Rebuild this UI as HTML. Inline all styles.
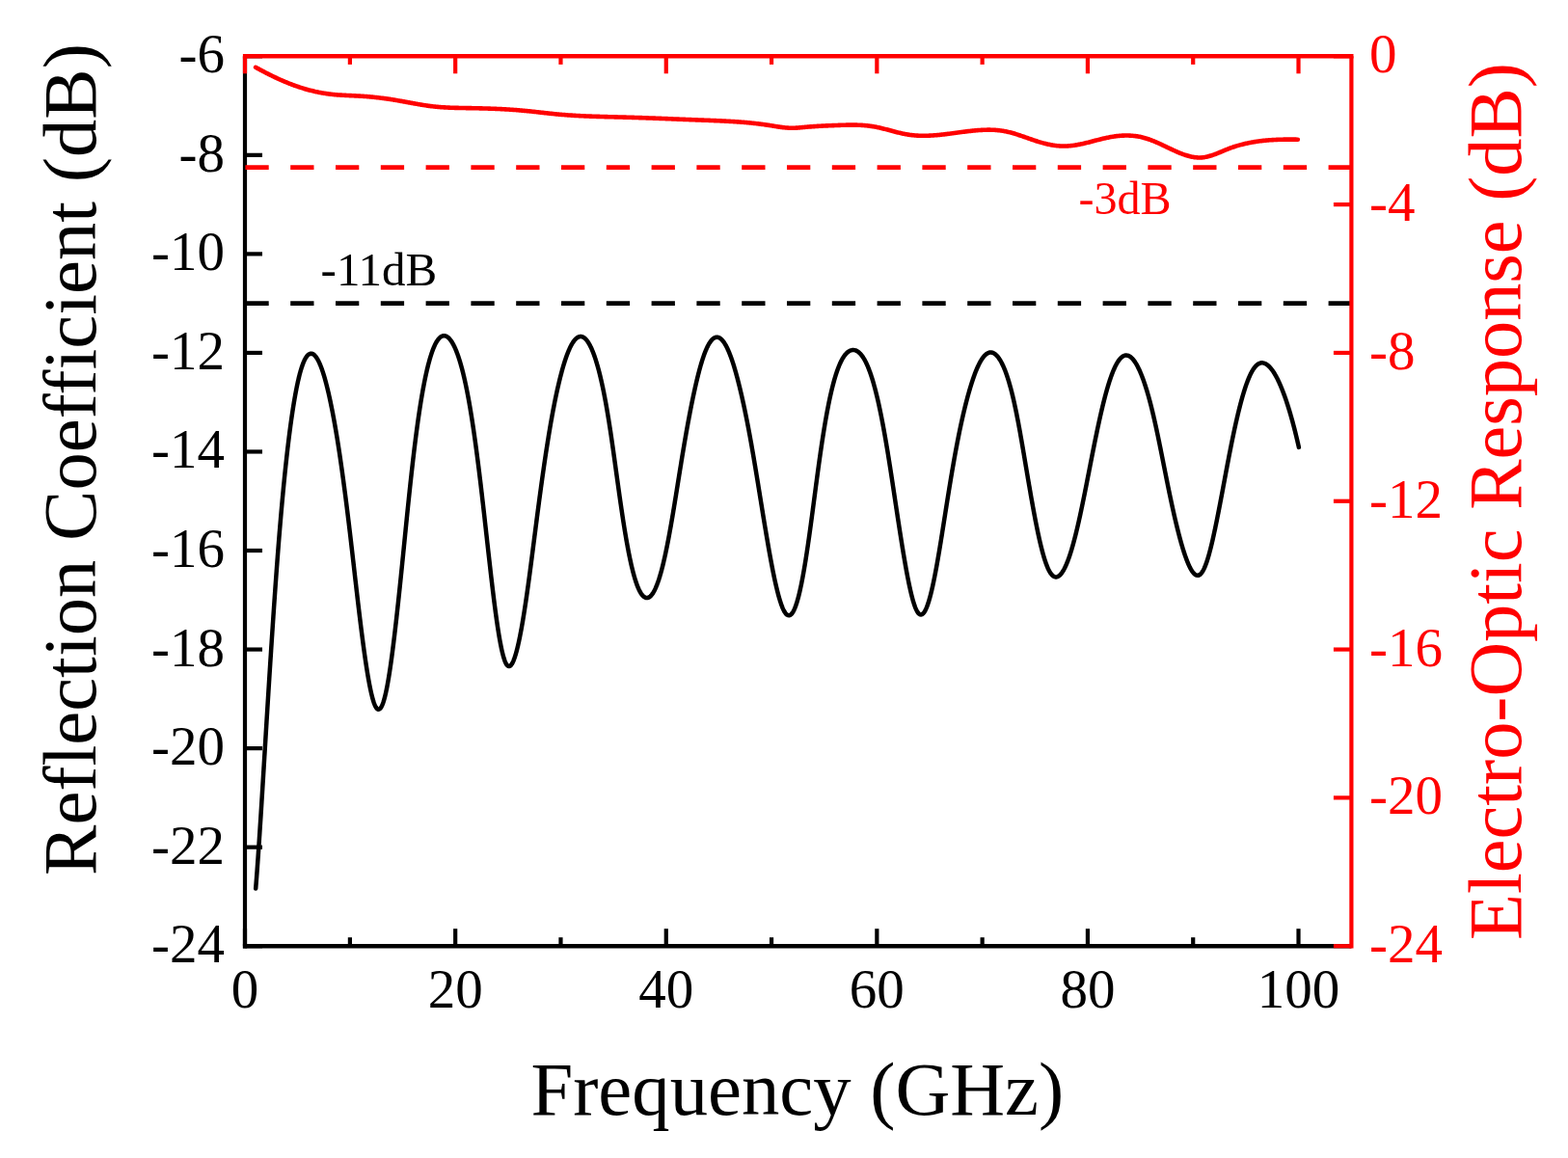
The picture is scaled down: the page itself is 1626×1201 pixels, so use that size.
<!DOCTYPE html>
<html><head><meta charset="utf-8"><title>Reflection Coefficient and Electro-Optic Response vs Frequency</title>
<style>html,body{margin:0;padding:0;background:#fff;overflow:hidden}svg{display:block}</style>
</head><body>
<svg width="1626" height="1201" viewBox="0 0 1626 1201"><g stroke="#000" stroke-width="4.2" fill="none" stroke-linecap="butt">
<line x1="254.0" y1="58.3" x2="254.0" y2="983.4000000000001"/>
<line x1="251.9" y1="981.2" x2="1401.4" y2="981.2" stroke-width="4.5"/>
<line x1="254.00" y1="981.2" x2="254.00" y2="963.2"/>
<line x1="362.89" y1="981.2" x2="362.89" y2="972.2"/>
<line x1="472.18" y1="981.2" x2="472.18" y2="963.2"/>
<line x1="581.47" y1="981.2" x2="581.47" y2="972.2"/>
<line x1="690.76" y1="981.2" x2="690.76" y2="963.2"/>
<line x1="800.05" y1="981.2" x2="800.05" y2="972.2"/>
<line x1="909.34" y1="981.2" x2="909.34" y2="963.2"/>
<line x1="1018.63" y1="981.2" x2="1018.63" y2="972.2"/>
<line x1="1127.92" y1="981.2" x2="1127.92" y2="963.2"/>
<line x1="1237.21" y1="981.2" x2="1237.21" y2="972.2"/>
<line x1="1346.50" y1="981.2" x2="1346.50" y2="963.2"/>
<line x1="254.0" y1="58.30" x2="272.0" y2="58.30"/>
<line x1="254.0" y1="160.84" x2="272.0" y2="160.84"/>
<line x1="254.0" y1="263.39" x2="272.0" y2="263.39"/>
<line x1="254.0" y1="365.93" x2="272.0" y2="365.93"/>
<line x1="254.0" y1="468.48" x2="272.0" y2="468.48"/>
<line x1="254.0" y1="571.02" x2="272.0" y2="571.02"/>
<line x1="254.0" y1="673.57" x2="272.0" y2="673.57"/>
<line x1="254.0" y1="776.11" x2="272.0" y2="776.11"/>
<line x1="254.0" y1="878.66" x2="272.0" y2="878.66"/>
<line x1="254.0" y1="981.20" x2="272.0" y2="981.20"/>
</g>
<line x1="254.4" y1="314.66" x2="1401.4" y2="314.66" stroke="#000" stroke-width="4.6" stroke-dasharray="24.3 22.5"/>
<path d="M265.19,921.54 L265.29,920.30 L265.39,919.04 L265.49,917.78 L265.59,916.51 L265.67,915.49 L265.77,914.20 L265.85,913.16 L265.95,911.86 L266.05,910.55 L266.13,909.49 L266.23,908.16 L266.31,907.10 L266.41,905.75 L266.49,904.67 L266.57,903.59 L266.67,902.23 L266.75,901.13 L266.85,899.75 L266.93,898.65 L267.01,897.53 L267.11,896.14 L267.19,895.01 L267.27,893.89 L267.35,892.76 L267.43,891.62 L267.53,890.19 L267.61,889.05 L267.69,887.90 L267.77,886.75 L267.85,885.59 L267.93,884.43 L268.03,882.97 L268.11,881.80 L268.19,880.62 L268.27,879.44 L268.35,878.26 L268.43,877.07 L268.51,875.88 L268.59,874.69 L268.67,873.49 L268.75,872.29 L268.83,871.09 L268.91,869.88 L268.99,868.67 L269.07,867.46 L269.15,866.24 L269.23,865.03 L269.31,863.80 L269.37,862.88 L269.45,861.66 L269.53,860.43 L269.61,859.19 L269.69,857.96 L269.77,856.72 L269.85,855.48 L269.93,854.23 L269.99,853.30 L270.07,852.05 L270.15,850.80 L270.23,849.55 L270.31,848.29 L270.39,847.03 L270.45,846.09 L270.53,844.83 L270.61,843.56 L270.69,842.30 L270.77,841.03 L270.83,840.08 L270.91,838.81 L270.99,837.53 L271.07,836.26 L271.13,835.30 L271.21,834.02 L271.29,832.74 L271.37,831.46 L271.43,830.50 L271.51,829.21 L271.59,827.93 L271.67,826.64 L271.73,825.68 L271.81,824.39 L271.89,823.10 L271.95,822.13 L272.03,820.83 L272.11,819.54 L272.17,818.57 L272.25,817.27 L272.33,815.97 L272.41,814.68 L272.47,813.70 L272.55,812.40 L272.63,811.10 L272.69,810.12 L272.77,808.82 L272.85,807.52 L272.91,806.54 L272.99,805.24 L273.07,803.93 L273.13,802.95 L273.21,801.65 L273.29,800.34 L273.35,799.36 L273.43,798.05 L273.51,796.74 L273.57,795.76 L273.65,794.45 L273.73,793.14 L273.79,792.16 L273.87,790.85 L273.95,789.54 L274.01,788.56 L274.09,787.25 L274.17,785.94 L274.23,784.95 L274.31,783.64 L274.39,782.33 L274.45,781.35 L274.53,780.04 L274.61,778.73 L274.67,777.74 L274.75,776.43 L274.81,775.45 L274.89,774.14 L274.97,772.83 L275.03,771.85 L275.11,770.54 L275.19,769.23 L275.25,768.24 L275.33,766.94 L275.41,765.63 L275.47,764.65 L275.55,763.34 L275.63,762.03 L275.69,761.05 L275.77,759.74 L275.85,758.44 L275.91,757.46 L275.99,756.15 L276.07,754.85 L276.13,753.87 L276.21,752.56 L276.29,751.26 L276.35,750.28 L276.43,748.98 L276.51,747.68 L276.57,746.70 L276.65,745.40 L276.73,744.11 L276.81,742.81 L276.87,741.83 L276.95,740.54 L277.03,739.24 L277.09,738.27 L277.17,736.98 L277.25,735.68 L277.31,734.71 L277.39,733.42 L277.47,732.13 L277.55,730.84 L277.61,729.87 L277.69,728.59 L277.77,727.30 L277.83,726.33 L277.91,725.05 L277.99,723.76 L278.07,722.48 L278.13,721.52 L278.21,720.24 L278.29,718.96 L278.37,717.68 L278.43,716.72 L278.51,715.44 L278.59,714.17 L278.67,712.89 L278.73,711.94 L278.81,710.66 L278.89,709.39 L278.97,708.12 L279.03,707.17 L279.11,705.90 L279.19,704.64 L279.27,703.37 L279.35,702.11 L279.41,701.16 L279.49,699.90 L279.57,698.63 L279.65,697.37 L279.73,696.12 L279.79,695.17 L279.87,693.92 L279.95,692.66 L280.03,691.41 L280.11,690.16 L280.17,689.22 L280.25,687.97 L280.33,686.72 L280.41,685.47 L280.49,684.23 L280.57,682.98 L280.65,681.74 L280.71,680.81 L280.79,679.57 L280.87,678.33 L280.95,677.09 L281.03,675.86 L281.11,674.62 L281.19,673.39 L281.27,672.16 L281.33,671.23 L281.41,670.00 L281.49,668.78 L281.57,667.55 L281.65,666.33 L281.73,665.10 L281.81,663.88 L281.89,662.66 L281.97,661.44 L282.05,660.23 L282.13,659.01 L282.21,657.80 L282.29,656.59 L282.35,655.68 L282.43,654.47 L282.51,653.27 L282.59,652.06 L282.67,650.86 L282.75,649.66 L282.83,648.46 L282.91,647.26 L282.99,646.06 L283.07,644.87 L283.15,643.68 L283.23,642.49 L283.31,641.30 L283.39,640.11 L283.47,638.92 L283.57,637.45 L283.65,636.27 L283.73,635.09 L283.81,633.91 L283.89,632.74 L283.97,631.56 L284.05,630.39 L284.13,629.22 L284.21,628.06 L284.29,626.89 L284.37,625.73 L284.47,624.28 L284.55,623.12 L284.63,621.97 L284.71,620.82 L284.79,619.67 L284.87,618.52 L284.95,617.37 L285.05,615.94 L285.13,614.80 L285.21,613.66 L285.29,612.53 L285.37,611.39 L285.47,609.98 L285.55,608.85 L285.63,607.73 L285.71,606.60 L285.81,605.20 L285.89,604.09 L285.97,602.97 L286.07,601.58 L286.15,600.47 L286.23,599.37 L286.33,597.99 L286.41,596.89 L286.49,595.79 L286.59,594.42 L286.67,593.33 L286.75,592.24 L286.85,590.88 L286.93,589.80 L287.03,588.45 L287.11,587.37 L287.21,586.03 L287.29,584.96 L287.39,583.63 L287.47,582.57 L287.57,581.24 L287.65,580.18 L287.75,578.87 L287.83,577.82 L287.93,576.51 L288.01,575.46 L288.11,574.16 L288.21,572.87 L288.29,571.83 L288.39,570.55 L288.49,569.26 L288.57,568.24 L288.67,566.96 L288.77,565.69 L288.85,564.68 L288.95,563.42 L289.05,562.16 L289.15,560.91 L289.23,559.91 L289.33,558.66 L289.43,557.42 L289.53,556.18 L289.63,554.95 L289.73,553.73 L289.81,552.75 L289.91,551.53 L290.01,550.31 L290.11,549.11 L290.21,547.90 L290.31,546.70 L290.41,545.50 L290.51,544.31 L290.61,543.12 L290.71,541.94 L290.81,540.76 L290.91,539.59 L291.03,538.19 L291.13,537.03 L291.23,535.87 L291.33,534.71 L291.43,533.56 L291.53,532.42 L291.65,531.05 L291.75,529.91 L291.85,528.78 L291.95,527.66 L292.07,526.31 L292.17,525.19 L292.29,523.86 L292.39,522.75 L292.49,521.65 L292.61,520.33 L292.71,519.24 L292.83,517.94 L292.93,516.85 L293.05,515.56 L293.15,514.49 L293.27,513.20 L293.39,511.93 L293.49,510.87 L293.61,509.61 L293.73,508.35 L293.83,507.30 L293.95,506.06 L294.07,504.82 L294.19,503.58 L294.29,502.56 L294.41,501.33 L294.53,500.12 L294.65,498.91 L294.77,497.70 L294.89,496.50 L295.01,495.31 L295.13,494.12 L295.25,492.94 L295.37,491.77 L295.49,490.60 L295.63,489.24 L295.75,488.08 L295.87,486.93 L295.99,485.79 L296.11,484.65 L296.25,483.33 L296.37,482.21 L296.51,480.90 L296.63,479.79 L296.75,478.69 L296.89,477.40 L297.03,476.13 L297.15,475.04 L297.29,473.78 L297.41,472.71 L297.55,471.46 L297.69,470.23 L297.83,469.00 L297.95,467.95 L298.09,466.74 L298.23,465.53 L298.37,464.34 L298.51,463.15 L298.65,461.96 L298.79,460.79 L298.95,459.46 L299.09,458.30 L299.23,457.15 L299.37,456.01 L299.53,454.72 L299.67,453.59 L299.83,452.32 L299.97,451.21 L300.13,449.96 L300.27,448.87 L300.43,447.63 L300.59,446.40 L300.75,445.18 L300.89,444.13 L301.05,442.93 L301.21,441.74 L301.37,440.56 L301.55,439.25 L301.71,438.09 L301.87,436.94 L302.03,435.80 L302.21,434.53 L302.37,433.42 L302.55,432.17 L302.73,430.94 L302.89,429.85 L303.07,428.64 L303.25,427.44 L303.43,426.26 L303.61,425.09 L303.79,423.92 L303.99,422.65 L304.17,421.51 L304.35,420.39 L304.55,419.15 L304.75,417.94 L304.95,416.73 L305.15,415.54 L305.35,414.37 L305.55,413.21 L305.75,412.06 L305.97,410.82 L306.17,409.71 L306.39,408.50 L306.61,407.31 L306.83,406.14 L307.05,404.98 L307.27,403.84 L307.51,402.63 L307.75,401.43 L307.99,400.25 L308.23,399.10 L308.47,397.96 L308.73,396.76 L308.99,395.58 L309.25,394.43 L309.53,393.21 L309.79,392.11 L310.09,390.87 L310.37,389.75 L310.67,388.57 L310.97,387.43 L311.29,386.25 L311.61,385.10 L311.95,383.93 L312.29,382.80 L312.65,381.64 L313.01,380.53 L313.39,379.41 L313.79,378.29 L314.23,377.12 L314.67,376.01 L315.13,374.92 L315.63,373.83 L316.15,372.77 L316.73,371.70 L317.35,370.67 L318.03,369.69 L318.79,368.76 L319.63,367.94 L320.61,367.24 L321.73,366.80 L322.91,366.71 L324.09,367.01 L325.13,367.58 L326.07,368.34 L326.89,369.19 L327.65,370.13 L328.35,371.12 L328.99,372.14 L329.59,373.18 L330.15,374.24 L330.69,375.33 L331.19,376.40 L331.67,377.48 L332.15,378.62 L332.59,379.72 L333.03,380.86 L333.45,381.99 L333.85,383.10 L334.23,384.20 L334.63,385.39 L334.99,386.49 L335.35,387.62 L335.71,388.78 L336.07,389.97 L336.41,391.13 L336.73,392.23 L337.07,393.44 L337.39,394.59 L337.69,395.69 L338.01,396.89 L338.31,398.04 L338.61,399.20 L338.91,400.38 L339.19,401.50 L339.49,402.72 L339.77,403.88 L340.05,405.05 L340.33,406.24 L340.59,407.35 L340.87,408.57 L341.13,409.72 L341.39,410.88 L341.65,412.05 L341.91,413.24 L342.17,414.44 L342.41,415.56 L342.67,416.79 L342.91,417.93 L343.15,419.09 L343.39,420.25 L343.63,421.43 L343.87,422.62 L344.11,423.82 L344.35,425.03 L344.57,426.16 L344.81,427.39 L345.03,428.53 L345.25,429.68 L345.47,430.84 L345.69,432.01 L345.91,433.19 L346.13,434.38 L346.35,435.58 L346.57,436.78 L346.79,438.00 L346.99,439.12 L347.21,440.35 L347.41,441.49 L347.63,442.74 L347.83,443.89 L348.03,445.05 L348.23,446.21 L348.43,447.39 L348.63,448.57 L348.83,449.76 L349.03,450.96 L349.23,452.17 L349.43,453.38 L349.61,454.48 L349.81,455.71 L350.01,456.95 L350.19,458.07 L350.39,459.33 L350.57,460.47 L350.75,461.61 L350.95,462.89 L351.13,464.05 L351.31,465.21 L351.49,466.39 L351.67,467.56 L351.85,468.75 L352.03,469.95 L352.21,471.15 L352.39,472.35 L352.57,473.57 L352.73,474.65 L352.91,475.88 L353.09,477.11 L353.25,478.21 L353.43,479.46 L353.59,480.57 L353.77,481.83 L353.93,482.95 L354.11,484.22 L354.27,485.35 L354.45,486.63 L354.61,487.77 L354.77,488.92 L354.93,490.07 L355.11,491.37 L355.27,492.54 L355.43,493.70 L355.59,494.87 L355.75,496.04 L355.91,497.22 L356.07,498.41 L356.23,499.59 L356.39,500.78 L356.55,501.98 L356.71,503.18 L356.87,504.38 L357.03,505.59 L357.19,506.80 L357.35,508.01 L357.51,509.23 L357.65,510.30 L357.81,511.53 L357.97,512.76 L358.13,514.00 L358.27,515.08 L358.43,516.33 L358.59,517.57 L358.73,518.67 L358.89,519.93 L359.03,521.03 L359.19,522.29 L359.33,523.40 L359.49,524.67 L359.63,525.79 L359.79,527.07 L359.93,528.19 L360.09,529.47 L360.23,530.60 L360.37,531.74 L360.53,533.03 L360.67,534.17 L360.81,535.31 L360.97,536.62 L361.11,537.77 L361.25,538.92 L361.39,540.07 L361.55,541.39 L361.69,542.55 L361.83,543.72 L361.97,544.88 L362.11,546.05 L362.25,547.22 L362.41,548.56 L362.55,549.73 L362.69,550.91 L362.83,552.09 L362.97,553.28 L363.11,554.46 L363.25,555.65 L363.39,556.84 L363.53,558.03 L363.67,559.22 L363.81,560.42 L363.95,561.62 L364.09,562.82 L364.23,564.02 L364.37,565.22 L364.51,566.43 L364.65,567.63 L364.77,568.67 L364.91,569.88 L365.05,571.09 L365.19,572.30 L365.33,573.52 L365.47,574.73 L365.61,575.95 L365.75,577.17 L365.87,578.21 L366.01,579.43 L366.15,580.65 L366.29,581.87 L366.43,583.10 L366.57,584.32 L366.69,585.37 L366.83,586.59 L366.97,587.81 L367.11,589.04 L367.25,590.26 L367.37,591.31 L367.51,592.53 L367.65,593.76 L367.79,594.98 L367.93,596.20 L368.07,597.43 L368.19,598.47 L368.33,599.70 L368.47,600.92 L368.61,602.14 L368.75,603.36 L368.89,604.57 L369.01,605.62 L369.15,606.83 L369.29,608.05 L369.43,609.26 L369.57,610.47 L369.71,611.68 L369.85,612.89 L369.99,614.10 L370.13,615.31 L370.27,616.51 L370.39,617.54 L370.53,618.74 L370.67,619.94 L370.81,621.14 L370.95,622.33 L371.09,623.52 L371.23,624.71 L371.37,625.90 L371.51,627.08 L371.65,628.27 L371.81,629.61 L371.95,630.79 L372.09,631.96 L372.23,633.14 L372.37,634.30 L372.51,635.47 L372.65,636.63 L372.81,637.96 L372.95,639.11 L373.09,640.26 L373.23,641.41 L373.37,642.56 L373.53,643.86 L373.67,645.00 L373.81,646.13 L373.97,647.43 L374.11,648.55 L374.27,649.83 L374.41,650.95 L374.57,652.22 L374.71,653.33 L374.87,654.60 L375.01,655.70 L375.17,656.95 L375.31,658.04 L375.47,659.28 L375.63,660.52 L375.79,661.75 L375.93,662.82 L376.09,664.04 L376.25,665.25 L376.41,666.45 L376.57,667.65 L376.73,668.85 L376.89,670.03 L377.05,671.21 L377.21,672.38 L377.37,673.55 L377.53,674.71 L377.71,676.00 L377.87,677.15 L378.03,678.28 L378.21,679.55 L378.37,680.67 L378.55,681.92 L378.71,683.02 L378.89,684.25 L379.07,685.47 L379.25,686.69 L379.43,687.89 L379.59,688.94 L379.79,690.25 L379.97,691.42 L380.15,692.58 L380.33,693.72 L380.53,694.98 L380.71,696.10 L380.91,697.33 L381.09,698.42 L381.29,699.62 L381.49,700.81 L381.69,701.98 L381.91,703.25 L382.11,704.39 L382.33,705.62 L382.53,706.72 L382.75,707.91 L382.97,709.08 L383.21,710.34 L383.43,711.47 L383.67,712.67 L383.91,713.85 L384.15,715.00 L384.39,716.12 L384.65,717.31 L384.91,718.46 L385.19,719.67 L385.47,720.84 L385.75,721.96 L386.05,723.12 L386.37,724.31 L386.69,725.44 L387.03,726.58 L387.41,727.79 L387.79,728.91 L388.19,730.00 L388.65,731.14 L389.13,732.20 L389.69,733.27 L390.35,734.29 L391.15,735.17 L392.19,735.73 L393.35,735.57 L394.29,734.83 L395.03,733.87 L395.63,732.84 L396.17,731.73 L396.63,730.64 L397.05,729.54 L397.45,728.40 L397.83,727.22 L398.17,726.10 L398.51,724.90 L398.81,723.80 L399.11,722.64 L399.41,721.43 L399.69,720.26 L399.95,719.13 L400.21,717.96 L400.47,716.76 L400.71,715.62 L400.95,714.44 L401.19,713.24 L401.43,712.00 L401.65,710.85 L401.87,709.66 L402.09,708.45 L402.29,707.33 L402.49,706.19 L402.71,704.91 L402.91,703.73 L403.11,702.53 L403.29,701.43 L403.49,700.19 L403.67,699.06 L403.87,697.79 L404.05,696.63 L404.23,695.45 L404.41,694.26 L404.59,693.05 L404.75,691.97 L404.93,690.74 L405.11,689.49 L405.27,688.37 L405.45,687.10 L405.61,685.96 L405.77,684.81 L405.93,683.64 L406.11,682.33 L406.27,681.14 L406.43,679.95 L406.57,678.90 L406.73,677.69 L406.89,676.47 L407.05,675.24 L407.21,674.00 L407.35,672.91 L407.51,671.65 L407.65,670.54 L407.81,669.27 L407.95,668.15 L408.11,666.87 L408.25,665.73 L408.39,664.59 L408.55,663.28 L408.69,662.13 L408.83,660.97 L408.97,659.81 L409.11,658.64 L409.25,657.46 L409.41,656.11 L409.55,654.93 L409.69,653.73 L409.83,652.54 L409.95,651.50 L410.09,650.30 L410.23,649.08 L410.37,647.86 L410.51,646.64 L410.65,645.41 L410.79,644.18 L410.91,643.12 L411.05,641.88 L411.19,640.63 L411.31,639.56 L411.45,638.31 L411.59,637.05 L411.71,635.96 L411.85,634.70 L411.97,633.61 L412.11,632.33 L412.23,631.23 L412.37,629.95 L412.49,628.85 L412.63,627.56 L412.75,626.45 L412.89,625.15 L413.01,624.04 L413.15,622.73 L413.27,621.61 L413.39,620.48 L413.53,619.17 L413.65,618.04 L413.77,616.91 L413.91,615.58 L414.03,614.44 L414.15,613.30 L414.29,611.97 L414.41,610.83 L414.53,609.68 L414.65,608.53 L414.79,607.18 L414.91,606.03 L415.03,604.87 L415.15,603.71 L415.27,602.55 L415.39,601.39 L415.53,600.03 L415.65,598.86 L415.77,597.69 L415.89,596.52 L416.01,595.34 L416.13,594.17 L416.25,592.99 L416.37,591.81 L416.49,590.63 L416.61,589.45 L416.73,588.27 L416.87,586.89 L416.99,585.70 L417.11,584.51 L417.23,583.33 L417.35,582.14 L417.47,580.95 L417.59,579.75 L417.71,578.56 L417.83,577.37 L417.95,576.17 L418.07,574.97 L418.19,573.78 L418.31,572.58 L418.43,571.38 L418.55,570.18 L418.67,568.98 L418.79,567.78 L418.91,566.58 L419.01,565.58 L419.13,564.38 L419.25,563.18 L419.37,561.98 L419.49,560.77 L419.61,559.57 L419.73,558.37 L419.85,557.17 L419.97,555.97 L420.09,554.77 L420.21,553.57 L420.33,552.37 L420.45,551.17 L420.57,549.97 L420.69,548.77 L420.81,547.57 L420.93,546.37 L421.05,545.18 L421.17,543.98 L421.29,542.79 L421.41,541.59 L421.53,540.40 L421.65,539.21 L421.77,538.02 L421.89,536.83 L422.01,535.65 L422.13,534.46 L422.25,533.28 L422.37,532.10 L422.49,530.92 L422.61,529.74 L422.73,528.57 L422.87,527.20 L422.99,526.03 L423.11,524.86 L423.23,523.69 L423.35,522.53 L423.47,521.37 L423.59,520.21 L423.73,518.86 L423.85,517.70 L423.97,516.55 L424.09,515.40 L424.23,514.06 L424.35,512.92 L424.47,511.78 L424.59,510.64 L424.73,509.32 L424.85,508.18 L424.97,507.05 L425.11,505.74 L425.23,504.62 L425.35,503.50 L425.49,502.20 L425.61,501.08 L425.75,499.79 L425.87,498.68 L426.01,497.40 L426.13,496.30 L426.27,495.02 L426.39,493.93 L426.53,492.66 L426.65,491.57 L426.79,490.31 L426.93,489.05 L427.05,487.98 L427.19,486.73 L427.33,485.49 L427.47,484.25 L427.59,483.20 L427.73,481.97 L427.87,480.74 L428.01,479.53 L428.15,478.31 L428.29,477.11 L428.41,476.08 L428.55,474.88 L428.69,473.68 L428.83,472.50 L428.99,471.15 L429.13,469.97 L429.27,468.80 L429.41,467.64 L429.55,466.48 L429.69,465.32 L429.85,464.01 L429.99,462.87 L430.13,461.73 L430.29,460.44 L430.43,459.32 L430.57,458.20 L430.73,456.93 L430.87,455.82 L431.03,454.57 L431.19,453.32 L431.33,452.23 L431.49,451.00 L431.65,449.77 L431.81,448.55 L431.95,447.49 L432.11,446.29 L432.27,445.09 L432.43,443.90 L432.59,442.72 L432.75,441.55 L432.93,440.24 L433.09,439.08 L433.25,437.93 L433.41,436.79 L433.59,435.52 L433.75,434.39 L433.93,433.14 L434.09,432.03 L434.27,430.80 L434.45,429.57 L434.63,428.36 L434.79,427.29 L434.97,426.09 L435.15,424.90 L435.33,423.73 L435.53,422.43 L435.71,421.28 L435.89,420.13 L436.09,418.87 L436.27,417.75 L436.47,416.51 L436.65,415.41 L436.85,414.20 L437.05,413.00 L437.25,411.81 L437.45,410.63 L437.65,409.47 L437.85,408.32 L438.07,407.06 L438.27,405.94 L438.49,404.71 L438.69,403.61 L438.91,402.41 L439.13,401.23 L439.35,400.06 L439.59,398.81 L439.81,397.67 L440.05,396.44 L440.27,395.34 L440.51,394.14 L440.75,392.97 L440.99,391.81 L441.25,390.58 L441.49,389.45 L441.75,388.26 L442.01,387.08 L442.27,385.92 L442.53,384.78 L442.81,383.58 L443.09,382.39 L443.37,381.23 L443.65,380.10 L443.95,378.90 L444.23,377.81 L444.55,376.59 L444.85,375.47 L445.17,374.30 L445.49,373.16 L445.83,371.98 L446.17,370.83 L446.51,369.71 L446.87,368.56 L447.25,367.38 L447.63,366.24 L448.01,365.14 L448.41,364.02 L448.83,362.89 L449.27,361.75 L449.71,360.67 L450.19,359.54 L450.67,358.46 L451.19,357.36 L451.73,356.29 L452.29,355.26 L452.91,354.20 L453.55,353.20 L454.25,352.22 L454.99,351.30 L455.81,350.43 L456.71,349.64 L457.71,348.97 L458.81,348.47 L459.97,348.22 L461.17,348.25 L462.33,348.56 L463.41,349.07 L464.41,349.76 L465.31,350.54 L466.15,351.41 L466.91,352.32 L467.63,353.28 L468.31,354.28 L468.95,355.30 L469.55,356.33 L470.13,357.40 L470.67,358.45 L471.21,359.55 L471.71,360.63 L472.19,361.71 L472.67,362.84 L473.13,363.96 L473.57,365.08 L473.99,366.18 L474.41,367.32 L474.81,368.43 L475.21,369.59 L475.59,370.71 L475.97,371.87 L476.33,372.99 L476.69,374.15 L477.03,375.26 L477.37,376.40 L477.71,377.57 L478.05,378.76 L478.37,379.91 L478.69,381.08 L478.99,382.20 L479.31,383.42 L479.61,384.58 L479.89,385.68 L480.19,386.89 L480.47,388.03 L480.75,389.19 L481.03,390.37 L481.31,391.57 L481.57,392.70 L481.83,393.85 L482.09,395.01 L482.35,396.19 L482.61,397.39 L482.87,398.61 L483.11,399.74 L483.35,400.89 L483.59,402.06 L483.83,403.23 L484.07,404.43 L484.31,405.64 L484.55,406.86 L484.77,407.99 L484.99,409.14 L485.21,410.30 L485.45,411.57 L485.67,412.76 L485.87,413.85 L486.09,415.05 L486.31,416.27 L486.51,417.39 L486.73,418.64 L486.93,419.78 L487.13,420.93 L487.35,422.21 L487.55,423.39 L487.75,424.57 L487.95,425.77 L488.13,426.85 L488.33,428.07 L488.53,429.29 L488.71,430.40 L488.91,431.65 L489.09,432.78 L489.29,434.04 L489.47,435.19 L489.65,436.34 L489.83,437.51 L490.03,438.81 L490.21,439.99 L490.39,441.18 L490.57,442.38 L490.73,443.45 L490.91,444.66 L491.09,445.88 L491.27,447.11 L491.43,448.21 L491.61,449.46 L491.77,450.57 L491.95,451.83 L492.11,452.95 L492.29,454.23 L492.45,455.37 L492.61,456.52 L492.79,457.81 L492.95,458.97 L493.11,460.14 L493.27,461.31 L493.43,462.49 L493.59,463.67 L493.75,464.86 L493.91,466.05 L494.07,467.26 L494.23,468.46 L494.39,469.68 L494.55,470.90 L494.69,471.97 L494.85,473.20 L495.01,474.43 L495.17,475.67 L495.31,476.76 L495.47,478.01 L495.61,479.11 L495.77,480.37 L495.93,481.64 L496.07,482.75 L496.21,483.87 L496.37,485.15 L496.51,486.27 L496.67,487.56 L496.81,488.69 L496.95,489.83 L497.11,491.13 L497.25,492.28 L497.39,493.43 L497.55,494.74 L497.69,495.90 L497.83,497.06 L497.97,498.22 L498.11,499.38 L498.25,500.55 L498.41,501.89 L498.55,503.07 L498.69,504.24 L498.83,505.43 L498.97,506.61 L499.11,507.80 L499.25,508.99 L499.39,510.18 L499.53,511.38 L499.67,512.58 L499.81,513.78 L499.95,514.99 L500.09,516.19 L500.21,517.23 L500.35,518.44 L500.49,519.66 L500.63,520.87 L500.77,522.09 L500.91,523.32 L501.05,524.54 L501.17,525.59 L501.31,526.82 L501.45,528.05 L501.59,529.28 L501.73,530.52 L501.85,531.58 L501.99,532.81 L502.13,534.05 L502.25,535.12 L502.39,536.36 L502.53,537.60 L502.67,538.85 L502.79,539.92 L502.93,541.17 L503.07,542.42 L503.19,543.49 L503.33,544.74 L503.47,545.99 L503.59,547.07 L503.73,548.32 L503.87,549.58 L503.99,550.65 L504.13,551.91 L504.27,553.17 L504.39,554.24 L504.53,555.50 L504.65,556.58 L504.79,557.84 L504.93,559.10 L505.05,560.17 L505.19,561.43 L505.33,562.69 L505.45,563.77 L505.59,565.02 L505.73,566.28 L505.85,567.35 L505.99,568.61 L506.13,569.86 L506.25,570.94 L506.39,572.19 L506.53,573.44 L506.65,574.51 L506.79,575.76 L506.93,577.01 L507.05,578.07 L507.19,579.32 L507.33,580.56 L507.45,581.62 L507.59,582.86 L507.73,584.10 L507.87,585.33 L508.01,586.56 L508.13,587.62 L508.27,588.84 L508.41,590.07 L508.55,591.29 L508.69,592.51 L508.81,593.55 L508.95,594.77 L509.09,595.98 L509.23,597.19 L509.37,598.39 L509.51,599.59 L509.65,600.79 L509.79,601.98 L509.93,603.17 L510.07,604.36 L510.21,605.54 L510.35,606.72 L510.49,607.90 L510.63,609.07 L510.77,610.23 L510.93,611.56 L511.07,612.72 L511.21,613.87 L511.35,615.02 L511.51,616.32 L511.65,617.46 L511.79,618.59 L511.95,619.88 L512.09,621.00 L512.25,622.28 L512.39,623.39 L512.55,624.65 L512.69,625.74 L512.85,626.99 L513.01,628.23 L513.15,629.31 L513.31,630.54 L513.47,631.75 L513.63,632.96 L513.79,634.16 L513.95,635.35 L514.11,636.54 L514.27,637.71 L514.43,638.87 L514.59,640.03 L514.75,641.18 L514.93,642.45 L515.09,643.58 L515.27,644.83 L515.43,645.94 L515.61,647.17 L515.79,648.38 L515.97,649.59 L516.15,650.78 L516.33,651.95 L516.51,653.11 L516.69,654.26 L516.89,655.52 L517.07,656.64 L517.27,657.86 L517.47,659.07 L517.67,660.25 L517.87,661.42 L518.07,662.56 L518.29,663.80 L518.49,664.91 L518.71,666.10 L518.93,667.27 L519.17,668.51 L519.39,669.63 L519.63,670.81 L519.87,671.97 L520.13,673.18 L520.39,674.36 L520.65,675.50 L520.93,676.69 L521.21,677.83 L521.51,679.00 L521.83,680.19 L522.15,681.32 L522.49,682.45 L522.85,683.58 L523.25,684.74 L523.67,685.85 L524.13,686.94 L524.65,688.02 L525.25,689.06 L525.97,690.02 L526.89,690.78 L528.03,691.03 L529.13,690.57 L529.99,689.75 L530.71,688.77 L531.31,687.75 L531.85,686.68 L532.35,685.56 L532.81,684.44 L533.23,683.32 L533.63,682.19 L534.01,681.05 L534.37,679.92 L534.73,678.73 L535.05,677.63 L535.39,676.42 L535.69,675.31 L535.99,674.16 L536.29,672.98 L536.59,671.77 L536.87,670.61 L537.15,669.42 L537.41,668.29 L537.67,667.13 L537.93,665.95 L538.19,664.75 L538.43,663.62 L538.67,662.47 L538.93,661.20 L539.15,660.11 L539.39,658.90 L539.63,657.67 L539.85,656.53 L540.07,655.37 L540.29,654.20 L540.51,653.01 L540.73,651.81 L540.95,650.59 L541.15,649.47 L541.37,648.22 L541.57,647.08 L541.77,645.92 L541.97,644.75 L542.17,643.57 L542.37,642.38 L542.57,641.18 L542.77,639.96 L542.97,638.74 L543.15,637.63 L543.35,636.38 L543.53,635.25 L543.71,634.11 L543.91,632.84 L544.09,631.68 L544.27,630.52 L544.45,629.35 L544.63,628.17 L544.81,626.98 L544.99,625.78 L545.17,624.58 L545.35,623.37 L545.53,622.15 L545.69,621.06 L545.87,619.83 L546.05,618.59 L546.21,617.48 L546.39,616.23 L546.55,615.11 L546.73,613.84 L546.89,612.71 L547.07,611.43 L547.23,610.29 L547.39,609.15 L547.55,607.99 L547.73,606.69 L547.89,605.53 L548.05,604.37 L548.21,603.20 L548.37,602.02 L548.53,600.85 L548.69,599.66 L548.85,598.48 L549.01,597.29 L549.17,596.09 L549.33,594.90 L549.49,593.70 L549.65,592.49 L549.81,591.28 L549.97,590.07 L550.13,588.86 L550.29,587.64 L550.43,586.58 L550.59,585.35 L550.75,584.13 L550.91,582.90 L551.05,581.83 L551.21,580.60 L551.37,579.36 L551.53,578.13 L551.67,577.04 L551.83,575.81 L551.99,574.57 L552.13,573.48 L552.29,572.24 L552.45,570.99 L552.59,569.90 L552.75,568.66 L552.91,567.41 L553.05,566.32 L553.21,565.07 L553.35,563.97 L553.51,562.72 L553.67,561.47 L553.81,560.38 L553.97,559.13 L554.13,557.88 L554.27,556.78 L554.43,555.53 L554.57,554.44 L554.73,553.19 L554.89,551.94 L555.03,550.85 L555.19,549.60 L555.35,548.35 L555.49,547.26 L555.65,546.02 L555.79,544.93 L555.95,543.68 L556.11,542.44 L556.25,541.36 L556.41,540.12 L556.57,538.88 L556.73,537.64 L556.87,536.56 L557.03,535.33 L557.19,534.10 L557.33,533.03 L557.49,531.80 L557.65,530.57 L557.81,529.35 L557.97,528.13 L558.11,527.06 L558.27,525.85 L558.43,524.63 L558.59,523.42 L558.75,522.21 L558.91,521.00 L559.07,519.80 L559.21,518.75 L559.37,517.55 L559.53,516.35 L559.69,515.16 L559.85,513.97 L560.01,512.78 L560.17,511.59 L560.33,510.41 L560.49,509.23 L560.65,508.05 L560.83,506.73 L560.99,505.56 L561.15,504.39 L561.31,503.23 L561.47,502.07 L561.63,500.91 L561.81,499.61 L561.97,498.46 L562.13,497.32 L562.31,496.03 L562.47,494.89 L562.63,493.76 L562.81,492.48 L562.97,491.35 L563.15,490.09 L563.31,488.97 L563.49,487.71 L563.65,486.60 L563.83,485.35 L563.99,484.24 L564.17,483.01 L564.33,481.91 L564.51,480.68 L564.69,479.45 L564.87,478.23 L565.03,477.15 L565.21,475.94 L565.39,474.74 L565.57,473.53 L565.75,472.34 L565.93,471.15 L566.11,469.96 L566.29,468.78 L566.47,467.61 L566.65,466.43 L566.83,465.27 L567.01,464.11 L567.21,462.83 L567.39,461.68 L567.57,460.53 L567.77,459.27 L567.95,458.13 L568.15,456.88 L568.33,455.76 L568.53,454.52 L568.71,453.41 L568.91,452.18 L569.11,450.96 L569.29,449.87 L569.49,448.66 L569.69,447.46 L569.89,446.26 L570.09,445.08 L570.29,443.90 L570.49,442.72 L570.69,441.56 L570.89,440.40 L571.09,439.24 L571.31,437.98 L571.51,436.85 L571.73,435.60 L571.93,434.48 L572.15,433.25 L572.35,432.14 L572.57,430.93 L572.79,429.73 L573.01,428.54 L573.23,427.36 L573.45,426.18 L573.67,425.01 L573.89,423.86 L574.11,422.71 L574.35,421.47 L574.57,420.34 L574.81,419.11 L575.03,418.00 L575.27,416.80 L575.51,415.61 L575.75,414.43 L575.99,413.26 L576.23,412.10 L576.49,410.86 L576.73,409.72 L576.97,408.60 L577.23,407.39 L577.49,406.19 L577.75,405.01 L578.01,403.84 L578.27,402.68 L578.53,401.53 L578.79,400.40 L579.07,399.19 L579.35,397.99 L579.61,396.90 L579.89,395.73 L580.19,394.49 L580.47,393.35 L580.75,392.23 L581.05,391.04 L581.35,389.86 L581.65,388.71 L581.95,387.56 L582.27,386.36 L582.57,385.25 L582.89,384.09 L583.21,382.94 L583.55,381.74 L583.87,380.63 L584.21,379.47 L584.55,378.33 L584.91,377.15 L585.27,375.99 L585.63,374.86 L585.99,373.75 L586.37,372.60 L586.75,371.48 L587.15,370.33 L587.55,369.21 L587.97,368.07 L588.39,366.95 L588.83,365.83 L589.27,364.73 L589.73,363.63 L590.21,362.52 L590.71,361.42 L591.21,360.35 L591.75,359.26 L592.31,358.19 L592.89,357.14 L593.49,356.12 L594.13,355.11 L594.81,354.12 L595.53,353.16 L596.31,352.24 L597.13,351.39 L598.05,350.59 L599.03,349.92 L600.11,349.39 L601.25,349.07 L602.45,349.01 L603.63,349.22 L604.75,349.67 L605.77,350.30 L606.71,351.06 L607.55,351.89 L608.35,352.81 L609.07,353.75 L609.75,354.73 L610.41,355.77 L611.01,356.79 L611.59,357.85 L612.15,358.93 L612.67,359.99 L613.17,361.06 L613.67,362.18 L614.13,363.26 L614.59,364.38 L615.03,365.49 L615.47,366.64 L615.89,367.77 L616.29,368.88 L616.69,370.03 L617.07,371.15 L617.45,372.30 L617.81,373.42 L618.17,374.56 L618.53,375.73 L618.87,376.86 L619.21,378.02 L619.55,379.19 L619.87,380.33 L620.19,381.48 L620.51,382.66 L620.81,383.78 L621.13,385.00 L621.43,386.16 L621.71,387.27 L622.01,388.47 L622.29,389.61 L622.57,390.77 L622.85,391.94 L623.13,393.14 L623.41,394.35 L623.67,395.49 L623.93,396.64 L624.19,397.81 L624.45,399.00 L624.71,400.20 L624.95,401.33 L625.21,402.56 L625.45,403.71 L625.69,404.88 L625.93,406.06 L626.17,407.26 L626.39,408.37 L626.63,409.59 L626.85,410.72 L627.09,411.97 L627.31,413.13 L627.53,414.30 L627.75,415.48 L627.97,416.67 L628.19,417.88 L628.39,418.99 L628.61,420.22 L628.81,421.34 L629.03,422.60 L629.23,423.74 L629.43,424.90 L629.63,426.07 L629.83,427.25 L630.03,428.43 L630.23,429.63 L630.43,430.83 L630.63,432.05 L630.83,433.27 L631.01,434.38 L631.21,435.62 L631.39,436.74 L631.59,438.00 L631.77,439.14 L631.95,440.29 L632.15,441.57 L632.33,442.73 L632.51,443.90 L632.69,445.07 L632.87,446.25 L633.05,447.44 L633.23,448.63 L633.41,449.83 L633.59,451.04 L633.77,452.25 L633.93,453.33 L634.11,454.55 L634.29,455.78 L634.47,457.02 L634.63,458.12 L634.81,459.36 L634.97,460.47 L635.15,461.73 L635.31,462.84 L635.49,464.11 L635.65,465.23 L635.83,466.50 L635.99,467.63 L636.15,468.77 L636.33,470.05 L636.49,471.19 L636.65,472.33 L636.83,473.62 L636.99,474.77 L637.15,475.92 L637.33,477.21 L637.49,478.37 L637.65,479.52 L637.81,480.68 L637.97,481.84 L638.15,483.14 L638.31,484.30 L638.47,485.46 L638.63,486.62 L638.79,487.78 L638.97,489.09 L639.13,490.25 L639.29,491.41 L639.45,492.57 L639.61,493.73 L639.79,495.04 L639.95,496.19 L640.11,497.35 L640.27,498.51 L640.43,499.67 L640.61,500.97 L640.77,502.12 L640.93,503.27 L641.09,504.42 L641.27,505.71 L641.43,506.86 L641.59,508.00 L641.77,509.29 L641.93,510.43 L642.09,511.56 L642.27,512.84 L642.43,513.97 L642.61,515.24 L642.77,516.36 L642.95,517.63 L643.11,518.74 L643.29,520.00 L643.45,521.11 L643.63,522.35 L643.79,523.46 L643.97,524.69 L644.15,525.93 L644.31,527.02 L644.49,528.24 L644.67,529.45 L644.85,530.67 L645.03,531.87 L645.19,532.94 L645.37,534.13 L645.55,535.32 L645.73,536.51 L645.91,537.68 L646.11,538.98 L646.29,540.15 L646.47,541.30 L646.65,542.45 L646.85,543.72 L647.03,544.86 L647.21,545.99 L647.41,547.24 L647.59,548.35 L647.79,549.58 L647.99,550.80 L648.17,551.90 L648.37,553.10 L648.57,554.30 L648.77,555.48 L648.97,556.66 L649.17,557.82 L649.39,559.10 L649.59,560.24 L649.79,561.38 L650.01,562.62 L650.21,563.73 L650.43,564.95 L650.65,566.15 L650.87,567.34 L651.09,568.52 L651.31,569.69 L651.53,570.84 L651.75,571.98 L651.99,573.21 L652.23,574.42 L652.45,575.52 L652.69,576.70 L652.93,577.87 L653.19,579.12 L653.43,580.26 L653.69,581.47 L653.93,582.57 L654.19,583.75 L654.45,584.91 L654.73,586.13 L654.99,587.25 L655.27,588.43 L655.55,589.59 L655.85,590.81 L656.13,591.93 L656.43,593.10 L656.73,594.24 L657.05,595.44 L657.37,596.60 L657.69,597.74 L658.03,598.91 L658.37,600.05 L658.71,601.16 L659.07,602.30 L659.45,603.46 L659.83,604.59 L660.23,605.72 L660.65,606.87 L661.07,607.96 L661.53,609.11 L661.99,610.19 L662.47,611.26 L662.99,612.35 L663.55,613.44 L664.13,614.48 L664.75,615.49 L665.43,616.48 L666.17,617.41 L666.99,618.29 L667.91,619.06 L668.95,619.67 L670.09,620.04 L671.29,620.07 L672.43,619.77 L673.49,619.19 L674.43,618.45 L675.27,617.60 L676.05,616.66 L676.75,615.68 L677.39,614.68 L677.99,613.66 L678.57,612.58 L679.11,611.51 L679.63,610.41 L680.11,609.33 L680.57,608.24 L681.03,607.11 L681.47,605.97 L681.89,604.84 L682.29,603.72 L682.67,602.63 L683.07,601.44 L683.43,600.33 L683.79,599.19 L684.15,598.02 L684.49,596.89 L684.83,595.72 L685.17,594.53 L685.49,593.39 L685.81,592.22 L686.11,591.10 L686.41,589.96 L686.71,588.79 L687.01,587.61 L687.31,586.40 L687.59,585.26 L687.87,584.10 L688.15,582.92 L688.41,581.81 L688.69,580.60 L688.95,579.45 L689.21,578.30 L689.47,577.13 L689.73,575.94 L689.99,574.74 L690.25,573.52 L690.49,572.39 L690.73,571.24 L690.97,570.08 L691.21,568.91 L691.45,567.73 L691.69,566.54 L691.93,565.34 L692.17,564.12 L692.39,563.00 L692.63,561.76 L692.85,560.62 L693.07,559.47 L693.29,558.31 L693.53,557.04 L693.75,555.86 L693.97,554.67 L694.17,553.59 L694.39,552.39 L694.61,551.18 L694.83,549.96 L695.03,548.85 L695.25,547.62 L695.45,546.49 L695.67,545.25 L695.87,544.11 L696.09,542.85 L696.29,541.70 L696.49,540.55 L696.69,539.38 L696.89,538.22 L697.09,537.05 L697.31,535.75 L697.51,534.57 L697.69,533.50 L697.89,532.31 L698.09,531.12 L698.29,529.92 L698.49,528.72 L698.69,527.51 L698.89,526.30 L699.07,525.21 L699.27,523.99 L699.47,522.77 L699.67,521.54 L699.85,520.44 L700.05,519.21 L700.23,518.10 L700.43,516.87 L700.63,515.63 L700.81,514.52 L701.01,513.28 L701.19,512.16 L701.39,510.92 L701.57,509.80 L701.77,508.55 L701.95,507.43 L702.15,506.18 L702.33,505.06 L702.53,503.81 L702.71,502.68 L702.91,501.43 L703.09,500.31 L703.29,499.06 L703.47,497.93 L703.67,496.68 L703.85,495.56 L704.05,494.31 L704.23,493.19 L704.43,491.94 L704.61,490.82 L704.81,489.58 L704.99,488.46 L705.19,487.22 L705.37,486.10 L705.57,484.86 L705.75,483.75 L705.95,482.52 L706.15,481.28 L706.33,480.18 L706.53,478.95 L706.73,477.73 L706.91,476.63 L707.11,475.41 L707.31,474.19 L707.51,472.98 L707.69,471.89 L707.89,470.68 L708.09,469.48 L708.29,468.28 L708.49,467.08 L708.69,465.89 L708.89,464.70 L709.09,463.51 L709.29,462.33 L709.49,461.15 L709.69,459.98 L709.89,458.81 L710.09,457.64 L710.29,456.48 L710.49,455.32 L710.71,454.05 L710.91,452.90 L711.11,451.76 L711.31,450.62 L711.53,449.37 L711.73,448.23 L711.95,447.00 L712.15,445.87 L712.37,444.65 L712.59,443.42 L712.79,442.32 L713.01,441.10 L713.23,439.90 L713.45,438.70 L713.65,437.61 L713.87,436.42 L714.09,435.24 L714.31,434.06 L714.53,432.89 L714.75,431.72 L714.99,430.46 L715.21,429.31 L715.43,428.16 L715.67,426.92 L715.89,425.79 L716.13,424.56 L716.35,423.44 L716.59,422.22 L716.81,421.12 L717.05,419.92 L717.29,418.73 L717.53,417.54 L717.77,416.37 L718.01,415.20 L718.25,414.04 L718.49,412.89 L718.75,411.65 L718.99,410.51 L719.25,409.29 L719.49,408.17 L719.75,406.97 L720.01,405.77 L720.25,404.68 L720.51,403.50 L720.77,402.34 L721.05,401.09 L721.31,399.95 L721.57,398.81 L721.85,397.60 L722.11,396.49 L722.39,395.30 L722.67,394.12 L722.95,392.96 L723.23,391.81 L723.53,390.59 L723.81,389.46 L724.11,388.27 L724.41,387.10 L724.71,385.94 L725.01,384.80 L725.31,383.67 L725.63,382.49 L725.95,381.33 L726.27,380.19 L726.61,378.99 L726.93,377.89 L727.27,376.74 L727.63,375.55 L727.97,374.45 L728.33,373.30 L728.71,372.13 L729.09,370.98 L729.47,369.86 L729.87,368.72 L730.27,367.60 L730.69,366.47 L731.11,365.38 L731.55,364.27 L732.01,363.15 L732.49,362.04 L732.99,360.93 L733.49,359.87 L734.03,358.79 L734.59,357.73 L735.17,356.70 L735.81,355.65 L736.47,354.66 L737.17,353.71 L737.95,352.76 L738.77,351.91 L739.67,351.14 L740.67,350.47 L741.77,349.98 L742.93,349.72 L744.13,349.75 L745.29,350.06 L746.37,350.59 L747.35,351.27 L748.25,352.07 L749.09,352.95 L749.85,353.87 L750.57,354.85 L751.23,355.83 L751.87,356.85 L752.47,357.89 L753.05,358.95 L753.59,359.99 L754.13,361.09 L754.65,362.19 L755.13,363.25 L755.61,364.36 L756.07,365.45 L756.53,366.58 L756.97,367.70 L757.41,368.85 L757.83,369.98 L758.23,371.08 L758.63,372.21 L759.03,373.36 L759.41,374.49 L759.79,375.63 L760.15,376.74 L760.53,377.93 L760.87,379.02 L761.23,380.19 L761.57,381.32 L761.93,382.53 L762.25,383.62 L762.59,384.80 L762.91,385.93 L763.25,387.14 L763.57,388.30 L763.87,389.40 L764.19,390.58 L764.51,391.78 L764.81,392.92 L765.11,394.07 L765.41,395.23 L765.71,396.41 L766.01,397.59 L766.29,398.71 L766.59,399.92 L766.87,401.06 L767.15,402.21 L767.43,403.37 L767.71,404.54 L767.99,405.72 L768.27,406.90 L768.55,408.10 L768.81,409.22 L769.09,410.44 L769.35,411.58 L769.61,412.73 L769.87,413.89 L770.13,415.05 L770.39,416.23 L770.65,417.41 L770.91,418.60 L771.17,419.80 L771.41,420.92 L771.67,422.13 L771.91,423.26 L772.17,424.50 L772.41,425.64 L772.65,426.79 L772.89,427.95 L773.15,429.22 L773.39,430.39 L773.61,431.48 L773.85,432.67 L774.09,433.86 L774.33,435.07 L774.57,436.28 L774.79,437.40 L775.03,438.62 L775.25,439.75 L775.49,440.99 L775.71,442.13 L775.93,443.28 L776.15,444.44 L776.39,445.70 L776.61,446.87 L776.83,448.05 L777.05,449.23 L777.27,450.41 L777.49,451.60 L777.69,452.69 L777.91,453.90 L778.13,455.11 L778.35,456.32 L778.55,457.43 L778.77,458.65 L778.97,459.77 L779.19,461.01 L779.39,462.14 L779.61,463.38 L779.81,464.52 L780.03,465.78 L780.23,466.92 L780.43,468.07 L780.65,469.34 L780.85,470.50 L781.05,471.66 L781.25,472.83 L781.45,473.99 L781.65,475.17 L781.85,476.34 L782.05,477.52 L782.25,478.71 L782.45,479.89 L782.65,481.08 L782.85,482.27 L783.05,483.47 L783.25,484.67 L783.45,485.87 L783.65,487.07 L783.83,488.16 L784.03,489.37 L784.23,490.58 L784.43,491.79 L784.63,493.01 L784.81,494.11 L785.01,495.33 L785.21,496.55 L785.39,497.65 L785.59,498.87 L785.79,500.10 L785.97,501.21 L786.17,502.44 L786.37,503.67 L786.55,504.78 L786.75,506.01 L786.93,507.12 L787.13,508.36 L787.33,509.59 L787.51,510.71 L787.71,511.94 L787.89,513.06 L788.09,514.30 L788.27,515.41 L788.47,516.65 L788.67,517.88 L788.85,519.00 L789.05,520.24 L789.23,521.35 L789.43,522.58 L789.61,523.70 L789.81,524.93 L790.01,526.16 L790.19,527.27 L790.39,528.50 L790.59,529.73 L790.77,530.84 L790.97,532.06 L791.17,533.29 L791.35,534.39 L791.55,535.61 L791.75,536.83 L791.93,537.93 L792.13,539.14 L792.33,540.36 L792.53,541.57 L792.71,542.66 L792.91,543.86 L793.11,545.07 L793.31,546.27 L793.51,547.47 L793.71,548.67 L793.89,549.75 L794.09,550.94 L794.29,552.13 L794.49,553.32 L794.69,554.50 L794.89,555.68 L795.09,556.86 L795.29,558.04 L795.49,559.21 L795.71,560.49 L795.91,561.66 L796.11,562.82 L796.31,563.97 L796.51,565.13 L796.73,566.39 L796.93,567.53 L797.13,568.67 L797.35,569.92 L797.55,571.05 L797.77,572.29 L797.97,573.40 L798.19,574.63 L798.41,575.85 L798.61,576.95 L798.83,578.16 L799.05,579.35 L799.27,580.55 L799.49,581.73 L799.71,582.91 L799.93,584.08 L800.15,585.24 L800.37,586.39 L800.61,587.64 L800.83,588.77 L801.07,590.00 L801.29,591.12 L801.53,592.33 L801.77,593.53 L801.99,594.61 L802.23,595.79 L802.49,597.05 L802.73,598.20 L802.97,599.34 L803.23,600.56 L803.47,601.67 L803.73,602.87 L803.99,604.04 L804.25,605.20 L804.51,606.35 L804.79,607.56 L805.07,608.76 L805.33,609.85 L805.63,611.09 L805.91,612.23 L806.19,613.35 L806.49,614.52 L806.79,615.67 L807.11,616.87 L807.43,618.04 L807.75,619.19 L808.07,620.30 L808.41,621.46 L808.77,622.64 L809.13,623.78 L809.49,624.89 L809.89,626.07 L810.27,627.15 L810.69,628.29 L811.13,629.42 L811.59,630.54 L812.07,631.62 L812.59,632.72 L813.13,633.75 L813.75,634.82 L814.41,635.80 L815.17,636.73 L816.05,637.54 L817.09,638.13 L818.27,638.29 L819.41,637.93 L820.37,637.23 L821.19,636.35 L821.89,635.39 L822.53,634.35 L823.09,633.30 L823.61,632.21 L824.09,631.12 L824.55,629.98 L824.97,628.88 L825.37,627.76 L825.77,626.58 L826.13,625.47 L826.49,624.31 L826.83,623.16 L827.17,621.98 L827.49,620.82 L827.79,619.71 L828.09,618.56 L828.39,617.37 L828.67,616.24 L828.97,614.99 L829.23,613.89 L829.51,612.67 L829.77,611.51 L830.03,610.34 L830.29,609.13 L830.53,608.00 L830.77,606.85 L831.01,605.69 L831.25,604.50 L831.49,603.29 L831.73,602.06 L831.95,600.92 L832.17,599.77 L832.39,598.60 L832.61,597.41 L832.83,596.21 L833.05,594.99 L833.25,593.87 L833.47,592.63 L833.67,591.49 L833.87,590.33 L834.07,589.16 L834.27,587.98 L834.47,586.79 L834.67,585.59 L834.87,584.37 L835.07,583.15 L835.25,582.04 L835.45,580.79 L835.63,579.66 L835.83,578.40 L836.01,577.25 L836.19,576.09 L836.37,574.93 L836.55,573.76 L836.73,572.58 L836.91,571.39 L837.09,570.19 L837.27,568.99 L837.45,567.78 L837.63,566.56 L837.81,565.34 L837.97,564.24 L838.15,563.00 L838.31,561.90 L838.49,560.64 L838.65,559.53 L838.83,558.26 L838.99,557.14 L839.17,555.86 L839.33,554.72 L839.49,553.58 L839.67,552.29 L839.83,551.14 L839.99,549.98 L840.15,548.82 L840.33,547.51 L840.49,546.35 L840.65,545.18 L840.81,544.00 L840.97,542.82 L841.13,541.64 L841.29,540.46 L841.45,539.27 L841.61,538.08 L841.77,536.88 L841.93,535.69 L842.09,534.49 L842.25,533.29 L842.41,532.09 L842.57,530.88 L842.73,529.67 L842.87,528.62 L843.03,527.41 L843.19,526.20 L843.35,524.98 L843.51,523.77 L843.67,522.56 L843.83,521.34 L843.97,520.28 L844.13,519.06 L844.29,517.84 L844.45,516.62 L844.61,515.40 L844.75,514.34 L844.91,513.12 L845.07,511.90 L845.23,510.69 L845.39,509.47 L845.55,508.25 L845.69,507.19 L845.85,505.98 L846.01,504.77 L846.17,503.55 L846.33,502.35 L846.49,501.14 L846.65,499.93 L846.81,498.73 L846.95,497.68 L847.11,496.48 L847.27,495.28 L847.43,494.09 L847.59,492.90 L847.75,491.71 L847.91,490.52 L848.07,489.34 L848.23,488.16 L848.41,486.84 L848.57,485.67 L848.73,484.50 L848.89,483.33 L849.05,482.17 L849.21,481.02 L849.39,479.72 L849.55,478.57 L849.71,477.43 L849.89,476.15 L850.05,475.01 L850.21,473.88 L850.39,472.61 L850.55,471.49 L850.73,470.24 L850.89,469.13 L851.07,467.89 L851.25,466.65 L851.41,465.56 L851.59,464.33 L851.77,463.11 L851.95,461.90 L852.11,460.83 L852.29,459.63 L852.47,458.44 L852.65,457.26 L852.83,456.08 L853.01,454.91 L853.21,453.62 L853.39,452.46 L853.57,451.32 L853.77,450.05 L853.95,448.92 L854.13,447.79 L854.33,446.55 L854.53,445.32 L854.71,444.22 L854.91,443.01 L855.11,441.81 L855.31,440.61 L855.51,439.43 L855.71,438.26 L855.91,437.09 L856.11,435.94 L856.33,434.68 L856.53,433.55 L856.75,432.31 L856.95,431.20 L857.17,429.98 L857.39,428.78 L857.61,427.60 L857.83,426.42 L858.05,425.25 L858.27,424.10 L858.49,422.96 L858.73,421.73 L858.95,420.62 L859.19,419.42 L859.43,418.23 L859.67,417.06 L859.91,415.90 L860.17,414.66 L860.41,413.53 L860.67,412.32 L860.91,411.22 L861.17,410.05 L861.45,408.80 L861.71,407.66 L861.97,406.54 L862.25,405.35 L862.53,404.18 L862.81,403.02 L863.11,401.81 L863.39,400.69 L863.69,399.52 L863.99,398.37 L864.31,397.17 L864.61,396.06 L864.93,394.90 L865.27,393.70 L865.59,392.59 L865.93,391.44 L866.27,390.31 L866.63,389.15 L866.99,388.01 L867.37,386.85 L867.75,385.71 L868.15,384.55 L868.55,383.43 L868.95,382.34 L869.39,381.18 L869.83,380.07 L870.27,378.99 L870.75,377.86 L871.23,376.78 L871.73,375.71 L872.27,374.60 L872.81,373.55 L873.39,372.49 L873.99,371.45 L874.63,370.42 L875.29,369.44 L875.99,368.48 L876.75,367.53 L877.55,366.64 L878.39,365.81 L879.31,365.04 L880.29,364.35 L881.35,363.77 L882.47,363.34 L883.63,363.07 L884.83,363.00 L886.03,363.12 L887.19,363.43 L888.29,363.90 L889.33,364.50 L890.29,365.19 L891.21,365.98 L892.07,366.84 L892.87,367.73 L893.61,368.65 L894.33,369.63 L895.01,370.63 L895.65,371.64 L896.27,372.68 L896.85,373.72 L897.41,374.78 L897.95,375.85 L898.47,376.92 L898.97,378.01 L899.47,379.13 L899.93,380.21 L900.39,381.32 L900.83,382.43 L901.27,383.56 L901.69,384.68 L902.11,385.84 L902.51,386.96 L902.89,388.06 L903.29,389.25 L903.65,390.35 L904.03,391.53 L904.39,392.67 L904.73,393.77 L905.09,394.97 L905.43,396.12 L905.75,397.22 L906.09,398.41 L906.41,399.55 L906.73,400.72 L907.05,401.90 L907.35,403.02 L907.65,404.17 L907.95,405.33 L908.25,406.51 L908.55,407.70 L908.83,408.84 L909.11,409.98 L909.41,411.23 L909.67,412.32 L909.95,413.51 L910.23,414.72 L910.49,415.86 L910.75,417.00 L911.03,418.25 L911.27,419.34 L911.53,420.52 L911.79,421.72 L912.05,422.93 L912.29,424.06 L912.55,425.29 L912.79,426.44 L913.03,427.61 L913.27,428.78 L913.51,429.96 L913.75,431.15 L913.99,432.36 L914.21,433.47 L914.45,434.69 L914.67,435.82 L914.91,437.07 L915.13,438.21 L915.35,439.37 L915.57,440.54 L915.79,441.71 L916.01,442.89 L916.23,444.08 L916.45,445.28 L916.67,446.49 L916.87,447.59 L917.09,448.82 L917.31,450.05 L917.51,451.17 L917.73,452.42 L917.93,453.56 L918.13,454.71 L918.33,455.86 L918.55,457.13 L918.75,458.30 L918.95,459.47 L919.15,460.65 L919.35,461.83 L919.55,463.02 L919.75,464.22 L919.95,465.42 L920.13,466.51 L920.33,467.72 L920.53,468.94 L920.73,470.16 L920.91,471.26 L921.11,472.50 L921.29,473.61 L921.49,474.85 L921.69,476.10 L921.87,477.23 L922.05,478.36 L922.25,479.62 L922.43,480.76 L922.63,482.03 L922.81,483.17 L922.99,484.32 L923.17,485.47 L923.37,486.76 L923.55,487.92 L923.73,489.08 L923.91,490.24 L924.09,491.41 L924.29,492.71 L924.47,493.88 L924.65,495.05 L924.83,496.23 L925.01,497.41 L925.19,498.59 L925.37,499.77 L925.55,500.96 L925.73,502.14 L925.91,503.33 L926.09,504.52 L926.27,505.71 L926.45,506.90 L926.63,508.09 L926.81,509.28 L926.99,510.47 L927.17,511.67 L927.35,512.86 L927.53,514.06 L927.69,515.12 L927.87,516.32 L928.05,517.51 L928.23,518.71 L928.41,519.90 L928.59,521.10 L928.77,522.29 L928.95,523.49 L929.13,524.68 L929.31,525.87 L929.49,527.07 L929.67,528.26 L929.85,529.45 L930.03,530.64 L930.21,531.82 L930.39,533.01 L930.57,534.20 L930.75,535.38 L930.93,536.56 L931.11,537.74 L931.29,538.92 L931.47,540.10 L931.65,541.28 L931.83,542.45 L932.01,543.62 L932.19,544.79 L932.39,546.09 L932.57,547.25 L932.75,548.42 L932.93,549.58 L933.11,550.73 L933.31,552.01 L933.49,553.17 L933.67,554.31 L933.85,555.46 L934.05,556.73 L934.23,557.87 L934.43,559.13 L934.61,560.26 L934.79,561.39 L934.99,562.64 L935.17,563.76 L935.37,565.00 L935.57,566.24 L935.75,567.35 L935.95,568.57 L936.13,569.67 L936.33,570.89 L936.53,572.10 L936.73,573.31 L936.93,574.51 L937.13,575.70 L937.33,576.89 L937.53,578.07 L937.73,579.24 L937.93,580.41 L938.13,581.57 L938.33,582.73 L938.53,583.88 L938.75,585.13 L938.95,586.26 L939.17,587.50 L939.37,588.62 L939.59,589.83 L939.81,591.04 L940.03,592.24 L940.23,593.32 L940.45,594.50 L940.69,595.77 L940.91,596.93 L941.13,598.07 L941.37,599.31 L941.59,600.43 L941.83,601.64 L942.07,602.83 L942.31,604.01 L942.55,605.18 L942.79,606.32 L943.03,607.46 L943.29,608.67 L943.55,609.85 L943.81,611.02 L944.07,612.17 L944.33,613.30 L944.61,614.50 L944.89,615.66 L945.17,616.80 L945.47,618.00 L945.77,619.16 L946.07,620.29 L946.39,621.47 L946.71,622.60 L947.05,623.77 L947.41,624.96 L947.77,626.10 L948.13,627.19 L948.53,628.34 L948.95,629.48 L949.39,630.59 L949.85,631.67 L950.37,632.78 L950.91,633.82 L951.53,634.85 L952.25,635.84 L953.07,636.68 L954.09,637.32 L955.25,637.48 L956.37,637.08 L957.31,636.31 L958.09,635.39 L958.75,634.42 L959.35,633.38 L959.91,632.27 L960.41,631.18 L960.87,630.10 L961.31,628.98 L961.73,627.85 L962.13,626.71 L962.51,625.58 L962.87,624.46 L963.23,623.29 L963.57,622.15 L963.91,620.97 L964.23,619.82 L964.55,618.64 L964.85,617.51 L965.15,616.34 L965.45,615.15 L965.73,614.01 L966.01,612.85 L966.29,611.66 L966.55,610.54 L966.83,609.31 L967.09,608.15 L967.35,606.97 L967.61,605.77 L967.85,604.65 L968.11,603.42 L968.35,602.27 L968.59,601.10 L968.83,599.91 L969.07,598.72 L969.29,597.60 L969.53,596.38 L969.75,595.25 L969.99,594.00 L970.21,592.84 L970.43,591.67 L970.65,590.49 L970.87,589.30 L971.09,588.10 L971.29,587.00 L971.51,585.78 L971.73,584.56 L971.93,583.43 L972.15,582.19 L972.35,581.05 L972.55,579.90 L972.75,578.74 L972.97,577.47 L973.17,576.30 L973.37,575.13 L973.57,573.95 L973.77,572.76 L973.97,571.57 L974.17,570.37 L974.37,569.17 L974.55,568.08 L974.75,566.87 L974.95,565.65 L975.15,564.43 L975.33,563.33 L975.53,562.10 L975.71,560.99 L975.91,559.75 L976.11,558.51 L976.29,557.39 L976.49,556.14 L976.67,555.02 L976.87,553.77 L977.05,552.64 L977.23,551.51 L977.43,550.25 L977.61,549.12 L977.81,547.86 L977.99,546.72 L978.17,545.58 L978.37,544.32 L978.55,543.18 L978.75,541.91 L978.93,540.77 L979.11,539.63 L979.31,538.36 L979.49,537.21 L979.67,536.07 L979.87,534.80 L980.05,533.66 L980.23,532.51 L980.43,531.24 L980.61,530.10 L980.79,528.96 L980.99,527.69 L981.17,526.55 L981.35,525.41 L981.55,524.15 L981.73,523.01 L981.91,521.87 L982.11,520.61 L982.29,519.48 L982.49,518.22 L982.67,517.09 L982.87,515.84 L983.05,514.71 L983.25,513.47 L983.43,512.34 L983.63,511.10 L983.81,509.98 L984.01,508.75 L984.19,507.63 L984.39,506.40 L984.59,505.17 L984.77,504.07 L984.97,502.85 L985.17,501.63 L985.35,500.54 L985.55,499.32 L985.75,498.12 L985.95,496.91 L986.15,495.71 L986.33,494.64 L986.53,493.44 L986.73,492.26 L986.93,491.07 L987.13,489.89 L987.33,488.72 L987.55,487.43 L987.75,486.27 L987.95,485.11 L988.15,483.95 L988.35,482.80 L988.57,481.54 L988.77,480.40 L988.97,479.26 L989.19,478.02 L989.39,476.89 L989.61,475.66 L989.83,474.43 L990.03,473.32 L990.25,472.11 L990.47,470.90 L990.67,469.81 L990.89,468.61 L991.11,467.42 L991.33,466.24 L991.55,465.06 L991.77,463.89 L991.99,462.73 L992.23,461.46 L992.45,460.31 L992.67,459.17 L992.91,457.93 L993.13,456.80 L993.37,455.57 L993.59,454.46 L993.83,453.25 L994.07,452.05 L994.29,450.95 L994.53,449.77 L994.77,448.59 L995.01,447.42 L995.27,446.16 L995.51,445.01 L995.75,443.87 L995.99,442.73 L996.25,441.51 L996.51,440.30 L996.75,439.19 L997.01,437.99 L997.27,436.81 L997.53,435.64 L997.79,434.47 L998.05,433.32 L998.31,432.17 L998.59,430.95 L998.85,429.82 L999.13,428.62 L999.41,427.43 L999.67,426.34 L999.95,425.17 L1000.25,423.93 L1000.53,422.79 L1000.81,421.66 L1001.11,420.45 L1001.39,419.34 L1001.69,418.16 L1001.99,417.00 L1002.29,415.84 L1002.59,414.70 L1002.91,413.49 L1003.21,412.38 L1003.53,411.20 L1003.85,410.03 L1004.17,408.88 L1004.49,407.74 L1004.83,406.54 L1005.15,405.42 L1005.49,404.25 L1005.83,403.10 L1006.17,401.96 L1006.51,400.84 L1006.87,399.66 L1007.23,398.51 L1007.59,397.37 L1007.95,396.25 L1008.33,395.08 L1008.71,393.94 L1009.09,392.82 L1009.49,391.66 L1009.87,390.58 L1010.29,389.41 L1010.69,388.32 L1011.13,387.15 L1011.55,386.06 L1011.99,384.95 L1012.45,383.82 L1012.91,382.72 L1013.39,381.61 L1013.87,380.53 L1014.37,379.44 L1014.89,378.36 L1015.43,377.28 L1015.99,376.21 L1016.55,375.18 L1017.15,374.14 L1017.79,373.10 L1018.43,372.12 L1019.13,371.13 L1019.87,370.16 L1020.63,369.27 L1021.47,368.39 L1022.35,367.59 L1023.31,366.87 L1024.35,366.25 L1025.45,365.80 L1026.61,365.55 L1027.81,365.52 L1028.99,365.72 L1030.13,366.14 L1031.17,366.72 L1032.15,367.42 L1033.05,368.21 L1033.89,369.07 L1034.67,369.98 L1035.41,370.93 L1036.11,371.92 L1036.75,372.90 L1037.39,373.95 L1037.99,375.00 L1038.55,376.03 L1039.11,377.12 L1039.63,378.18 L1040.15,379.29 L1040.63,380.36 L1041.11,381.46 L1041.57,382.57 L1042.03,383.71 L1042.45,384.79 L1042.89,385.95 L1043.29,387.04 L1043.69,388.17 L1044.09,389.32 L1044.47,390.45 L1044.85,391.60 L1045.21,392.72 L1045.57,393.87 L1045.93,395.04 L1046.27,396.17 L1046.61,397.33 L1046.95,398.51 L1047.27,399.64 L1047.59,400.79 L1047.91,401.97 L1048.23,403.16 L1048.53,404.30 L1048.83,405.46 L1049.13,406.64 L1049.41,407.76 L1049.71,408.97 L1049.99,410.12 L1050.27,411.29 L1050.55,412.47 L1050.81,413.59 L1051.09,414.80 L1051.35,415.95 L1051.61,417.10 L1051.87,418.27 L1052.13,419.46 L1052.39,420.66 L1052.63,421.78 L1052.89,423.00 L1053.13,424.14 L1053.37,425.30 L1053.63,426.56 L1053.87,427.73 L1054.09,428.82 L1054.33,430.02 L1054.57,431.23 L1054.81,432.44 L1055.03,433.57 L1055.27,434.81 L1055.49,435.95 L1055.71,437.10 L1055.93,438.26 L1056.15,439.43 L1056.37,440.61 L1056.59,441.79 L1056.81,442.98 L1057.03,444.18 L1057.25,445.38 L1057.47,446.59 L1057.67,447.70 L1057.89,448.92 L1058.11,450.15 L1058.31,451.28 L1058.53,452.52 L1058.73,453.65 L1058.93,454.79 L1059.15,456.04 L1059.35,457.19 L1059.55,458.34 L1059.77,459.61 L1059.97,460.76 L1060.17,461.92 L1060.37,463.09 L1060.57,464.25 L1060.77,465.42 L1060.99,466.71 L1061.19,467.88 L1061.39,469.06 L1061.59,470.23 L1061.79,471.41 L1061.99,472.59 L1062.19,473.77 L1062.39,474.96 L1062.59,476.14 L1062.79,477.32 L1062.99,478.51 L1063.19,479.70 L1063.39,480.88 L1063.59,482.07 L1063.79,483.26 L1063.99,484.44 L1064.19,485.63 L1064.39,486.81 L1064.59,488.00 L1064.79,489.18 L1064.99,490.37 L1065.19,491.55 L1065.39,492.73 L1065.59,493.91 L1065.79,495.09 L1065.99,496.27 L1066.19,497.45 L1066.39,498.62 L1066.59,499.79 L1066.79,500.96 L1066.99,502.13 L1067.19,503.30 L1067.39,504.46 L1067.61,505.74 L1067.81,506.90 L1068.01,508.05 L1068.21,509.21 L1068.43,510.47 L1068.63,511.62 L1068.83,512.77 L1069.05,514.02 L1069.25,515.16 L1069.45,516.29 L1069.67,517.54 L1069.87,518.67 L1070.09,519.90 L1070.29,521.02 L1070.51,522.25 L1070.73,523.47 L1070.93,524.58 L1071.15,525.79 L1071.37,526.99 L1071.59,528.20 L1071.79,529.28 L1072.01,530.47 L1072.23,531.66 L1072.45,532.83 L1072.67,534.01 L1072.89,535.17 L1073.13,536.43 L1073.35,537.59 L1073.57,538.73 L1073.81,539.97 L1074.03,541.10 L1074.27,542.32 L1074.49,543.44 L1074.73,544.64 L1074.97,545.84 L1075.21,547.03 L1075.45,548.21 L1075.69,549.37 L1075.93,550.53 L1076.17,551.68 L1076.43,552.91 L1076.67,554.03 L1076.93,555.24 L1077.17,556.34 L1077.43,557.52 L1077.69,558.69 L1077.97,559.93 L1078.23,561.07 L1078.49,562.20 L1078.77,563.39 L1079.05,564.57 L1079.33,565.73 L1079.61,566.87 L1079.91,568.08 L1080.21,569.26 L1080.51,570.43 L1080.81,571.57 L1081.11,572.69 L1081.43,573.86 L1081.75,575.01 L1082.09,576.20 L1082.41,577.30 L1082.77,578.50 L1083.11,579.60 L1083.47,580.74 L1083.85,581.90 L1084.23,583.02 L1084.63,584.17 L1085.05,585.32 L1085.47,586.42 L1085.91,587.53 L1086.37,588.63 L1086.85,589.72 L1087.37,590.82 L1087.91,591.88 L1088.49,592.94 L1089.11,593.96 L1089.79,594.96 L1090.53,595.90 L1091.35,596.77 L1092.27,597.53 L1093.31,598.12 L1094.45,598.45 L1095.65,598.45 L1096.81,598.11 L1097.85,597.54 L1098.79,596.80 L1099.65,595.95 L1100.43,595.05 L1101.15,594.09 L1101.83,593.09 L1102.47,592.06 L1103.07,591.02 L1103.63,589.98 L1104.17,588.92 L1104.71,587.80 L1105.21,586.71 L1105.69,585.62 L1106.15,584.54 L1106.61,583.41 L1107.05,582.30 L1107.47,581.20 L1107.89,580.07 L1108.31,578.90 L1108.71,577.76 L1109.09,576.65 L1109.47,575.52 L1109.85,574.36 L1110.21,573.23 L1110.57,572.08 L1110.93,570.91 L1111.27,569.79 L1111.61,568.64 L1111.95,567.48 L1112.29,566.29 L1112.61,565.16 L1112.93,564.01 L1113.25,562.85 L1113.57,561.66 L1113.87,560.54 L1114.17,559.40 L1114.47,558.25 L1114.77,557.09 L1115.07,555.91 L1115.37,554.72 L1115.65,553.59 L1115.95,552.37 L1116.23,551.22 L1116.51,550.07 L1116.79,548.90 L1117.07,547.71 L1117.35,546.52 L1117.61,545.41 L1117.89,544.20 L1118.15,543.06 L1118.41,541.92 L1118.69,540.68 L1118.95,539.52 L1119.21,538.35 L1119.47,537.18 L1119.73,535.99 L1119.97,534.90 L1120.23,533.70 L1120.49,532.49 L1120.73,531.38 L1120.99,530.16 L1121.23,529.03 L1121.49,527.80 L1121.73,526.66 L1121.99,525.42 L1122.23,524.26 L1122.47,523.11 L1122.71,521.95 L1122.95,520.78 L1123.19,519.61 L1123.43,518.44 L1123.67,517.26 L1123.91,516.08 L1124.15,514.89 L1124.39,513.70 L1124.63,512.51 L1124.87,511.32 L1125.09,510.22 L1125.33,509.01 L1125.57,507.81 L1125.81,506.60 L1126.03,505.49 L1126.27,504.28 L1126.51,503.06 L1126.73,501.95 L1126.97,500.73 L1127.19,499.61 L1127.43,498.39 L1127.65,497.27 L1127.89,496.04 L1128.11,494.92 L1128.35,493.69 L1128.59,492.46 L1128.81,491.33 L1129.03,490.21 L1129.27,488.98 L1129.49,487.85 L1129.73,486.62 L1129.95,485.49 L1130.19,484.26 L1130.41,483.13 L1130.65,481.90 L1130.87,480.78 L1131.11,479.55 L1131.33,478.42 L1131.57,477.20 L1131.81,475.97 L1132.03,474.85 L1132.27,473.63 L1132.49,472.51 L1132.73,471.30 L1132.95,470.18 L1133.19,468.97 L1133.43,467.76 L1133.65,466.65 L1133.89,465.44 L1134.13,464.24 L1134.37,463.04 L1134.59,461.94 L1134.83,460.75 L1135.07,459.56 L1135.31,458.37 L1135.55,457.19 L1135.79,456.01 L1136.03,454.83 L1136.27,453.66 L1136.51,452.50 L1136.75,451.33 L1136.99,450.18 L1137.25,448.93 L1137.49,447.78 L1137.73,446.63 L1137.99,445.40 L1138.23,444.27 L1138.47,443.14 L1138.73,441.93 L1138.99,440.72 L1139.23,439.61 L1139.49,438.41 L1139.75,437.22 L1140.01,436.04 L1140.27,434.86 L1140.53,433.69 L1140.79,432.53 L1141.05,431.37 L1141.31,430.23 L1141.59,429.00 L1141.85,427.87 L1142.13,426.66 L1142.39,425.55 L1142.67,424.36 L1142.95,423.18 L1143.23,422.01 L1143.51,420.84 L1143.79,419.69 L1144.07,418.55 L1144.37,417.34 L1144.65,416.22 L1144.95,415.04 L1145.25,413.86 L1145.55,412.70 L1145.85,411.55 L1146.15,410.42 L1146.47,409.22 L1146.77,408.11 L1147.09,406.95 L1147.41,405.80 L1147.75,404.59 L1148.07,403.47 L1148.41,402.30 L1148.75,401.14 L1149.09,400.01 L1149.43,398.89 L1149.79,397.73 L1150.15,396.59 L1150.53,395.41 L1150.89,394.31 L1151.27,393.18 L1151.67,392.01 L1152.07,390.87 L1152.47,389.75 L1152.89,388.61 L1153.31,387.50 L1153.75,386.37 L1154.19,385.27 L1154.65,384.16 L1155.11,383.09 L1155.61,381.97 L1156.11,380.89 L1156.63,379.81 L1157.17,378.75 L1157.73,377.70 L1158.33,376.64 L1158.95,375.61 L1159.61,374.59 L1160.29,373.62 L1161.03,372.67 L1161.81,371.76 L1162.65,370.92 L1163.57,370.14 L1164.55,369.47 L1165.63,368.94 L1166.79,368.60 L1167.97,368.50 L1169.17,368.65 L1170.31,369.01 L1171.37,369.55 L1172.37,370.23 L1173.29,371.00 L1174.15,371.84 L1174.95,372.73 L1175.71,373.67 L1176.41,374.62 L1177.09,375.61 L1177.75,376.65 L1178.37,377.68 L1178.95,378.70 L1179.53,379.77 L1180.09,380.85 L1180.61,381.89 L1181.13,382.98 L1181.63,384.06 L1182.13,385.18 L1182.61,386.29 L1183.07,387.38 L1183.53,388.51 L1183.97,389.61 L1184.41,390.75 L1184.83,391.85 L1185.25,392.99 L1185.65,394.09 L1186.05,395.22 L1186.45,396.37 L1186.83,397.48 L1187.23,398.67 L1187.59,399.77 L1187.97,400.94 L1188.33,402.08 L1188.69,403.23 L1189.03,404.34 L1189.39,405.52 L1189.73,406.66 L1190.07,407.82 L1190.41,409.00 L1190.73,410.12 L1191.05,411.25 L1191.37,412.40 L1191.69,413.57 L1192.01,414.75 L1192.33,415.94 L1192.63,417.07 L1192.93,418.22 L1193.23,419.38 L1193.53,420.55 L1193.83,421.73 L1194.11,422.85 L1194.41,424.06 L1194.69,425.20 L1194.97,426.35 L1195.27,427.59 L1195.53,428.68 L1195.81,429.86 L1196.09,431.05 L1196.37,432.25 L1196.63,433.38 L1196.91,434.60 L1197.17,435.75 L1197.43,436.90 L1197.69,438.06 L1197.95,439.23 L1198.21,440.40 L1198.47,441.59 L1198.73,442.78 L1198.99,443.98 L1199.23,445.09 L1199.49,446.30 L1199.73,447.42 L1199.99,448.65 L1200.23,449.78 L1200.49,451.02 L1200.73,452.16 L1200.97,453.32 L1201.21,454.47 L1201.47,455.73 L1201.71,456.89 L1201.95,458.06 L1202.19,459.23 L1202.43,460.41 L1202.67,461.59 L1202.91,462.77 L1203.15,463.96 L1203.37,465.05 L1203.61,466.24 L1203.85,467.43 L1204.09,468.63 L1204.33,469.83 L1204.55,470.93 L1204.79,472.13 L1205.03,473.33 L1205.27,474.54 L1205.49,475.64 L1205.73,476.85 L1205.97,478.06 L1206.19,479.16 L1206.43,480.37 L1206.67,481.58 L1206.91,482.79 L1207.13,483.90 L1207.37,485.10 L1207.61,486.31 L1207.83,487.42 L1208.07,488.62 L1208.31,489.83 L1208.53,490.93 L1208.77,492.13 L1209.01,493.34 L1209.25,494.53 L1209.49,495.73 L1209.71,496.83 L1209.95,498.02 L1210.19,499.21 L1210.43,500.40 L1210.67,501.58 L1210.91,502.76 L1211.15,503.94 L1211.39,505.12 L1211.63,506.29 L1211.87,507.46 L1212.11,508.63 L1212.35,509.79 L1212.59,510.95 L1212.83,512.11 L1213.09,513.35 L1213.33,514.50 L1213.57,515.65 L1213.83,516.88 L1214.07,518.01 L1214.33,519.24 L1214.57,520.36 L1214.83,521.57 L1215.07,522.69 L1215.33,523.89 L1215.59,525.09 L1215.83,526.18 L1216.09,527.37 L1216.35,528.55 L1216.61,529.72 L1216.87,530.88 L1217.13,532.04 L1217.41,533.28 L1217.67,534.43 L1217.93,535.56 L1218.21,536.78 L1218.47,537.90 L1218.75,539.11 L1219.03,540.30 L1219.29,541.40 L1219.57,542.58 L1219.85,543.74 L1220.13,544.90 L1220.43,546.13 L1220.71,547.27 L1220.99,548.40 L1221.29,549.60 L1221.59,550.79 L1221.87,551.89 L1222.17,553.06 L1222.47,554.21 L1222.79,555.44 L1223.09,556.57 L1223.39,557.69 L1223.71,558.87 L1224.03,560.04 L1224.35,561.20 L1224.67,562.34 L1225.01,563.53 L1225.33,564.65 L1225.67,565.81 L1226.01,566.96 L1226.35,568.09 L1226.71,569.28 L1227.05,570.37 L1227.41,571.52 L1227.79,572.70 L1228.15,573.80 L1228.53,574.94 L1228.93,576.12 L1229.31,577.21 L1229.71,578.33 L1230.13,579.48 L1230.55,580.60 L1230.99,581.74 L1231.43,582.85 L1231.89,583.97 L1232.35,585.04 L1232.85,586.17 L1233.35,587.25 L1233.87,588.31 L1234.43,589.40 L1234.99,590.41 L1235.61,591.46 L1236.27,592.48 L1236.95,593.43 L1237.71,594.36 L1238.55,595.22 L1239.49,595.97 L1240.55,596.54 L1241.71,596.79 L1242.89,596.65 L1243.99,596.14 L1244.93,595.39 L1245.75,594.51 L1246.47,593.56 L1247.13,592.54 L1247.73,591.50 L1248.27,590.45 L1248.79,589.36 L1249.27,588.28 L1249.75,587.13 L1250.19,586.01 L1250.61,584.89 L1251.01,583.77 L1251.39,582.67 L1251.77,581.52 L1252.15,580.34 L1252.49,579.24 L1252.85,578.05 L1253.19,576.89 L1253.51,575.78 L1253.83,574.64 L1254.15,573.47 L1254.47,572.28 L1254.77,571.14 L1255.07,569.98 L1255.37,568.80 L1255.67,567.61 L1255.95,566.47 L1256.23,565.32 L1256.51,564.16 L1256.79,562.97 L1257.07,561.78 L1257.33,560.66 L1257.61,559.43 L1257.87,558.29 L1258.13,557.13 L1258.39,555.96 L1258.65,554.78 L1258.91,553.59 L1259.17,552.39 L1259.41,551.28 L1259.67,550.06 L1259.91,548.93 L1260.17,547.69 L1260.41,546.54 L1260.65,545.39 L1260.89,544.23 L1261.13,543.06 L1261.37,541.89 L1261.61,540.70 L1261.85,539.52 L1262.09,538.32 L1262.33,537.13 L1262.57,535.92 L1262.79,534.81 L1263.03,533.60 L1263.25,532.48 L1263.49,531.26 L1263.73,530.03 L1263.95,528.90 L1264.17,527.77 L1264.41,526.52 L1264.63,525.38 L1264.85,524.24 L1265.09,522.99 L1265.31,521.84 L1265.53,520.68 L1265.75,519.52 L1265.99,518.26 L1266.21,517.10 L1266.43,515.93 L1266.65,514.77 L1266.87,513.60 L1267.09,512.43 L1267.31,511.25 L1267.53,510.08 L1267.75,508.90 L1267.97,507.73 L1268.19,506.55 L1268.41,505.37 L1268.63,504.19 L1268.85,503.01 L1269.07,501.83 L1269.29,500.65 L1269.51,499.47 L1269.73,498.29 L1269.95,497.11 L1270.17,495.93 L1270.39,494.76 L1270.63,493.47 L1270.85,492.29 L1271.07,491.12 L1271.29,489.95 L1271.51,488.77 L1271.73,487.60 L1271.95,486.43 L1272.17,485.27 L1272.39,484.10 L1272.61,482.94 L1272.83,481.78 L1273.07,480.52 L1273.29,479.36 L1273.51,478.21 L1273.73,477.06 L1273.97,475.82 L1274.19,474.67 L1274.43,473.43 L1274.65,472.30 L1274.87,471.16 L1275.11,469.93 L1275.33,468.81 L1275.57,467.59 L1275.81,466.37 L1276.03,465.26 L1276.27,464.05 L1276.51,462.85 L1276.73,461.75 L1276.97,460.55 L1277.21,459.37 L1277.45,458.18 L1277.69,457.01 L1277.93,455.84 L1278.17,454.67 L1278.41,453.51 L1278.67,452.26 L1278.91,451.12 L1279.15,449.98 L1279.41,448.75 L1279.65,447.62 L1279.91,446.41 L1280.15,445.29 L1280.41,444.10 L1280.67,442.91 L1280.93,441.72 L1281.19,440.55 L1281.45,439.38 L1281.71,438.22 L1281.97,437.07 L1282.23,435.93 L1282.51,434.71 L1282.77,433.59 L1283.05,432.39 L1283.33,431.20 L1283.61,430.02 L1283.89,428.85 L1284.17,427.69 L1284.45,426.54 L1284.73,425.41 L1285.03,424.20 L1285.31,423.09 L1285.61,421.91 L1285.91,420.74 L1286.21,419.58 L1286.51,418.44 L1286.83,417.23 L1287.13,416.12 L1287.45,414.94 L1287.77,413.79 L1288.09,412.64 L1288.43,411.44 L1288.75,410.33 L1289.09,409.17 L1289.43,408.03 L1289.77,406.90 L1290.13,405.73 L1290.49,404.58 L1290.85,403.46 L1291.23,402.29 L1291.61,401.15 L1291.99,400.03 L1292.39,398.88 L1292.79,397.76 L1293.19,396.66 L1293.63,395.49 L1294.05,394.41 L1294.49,393.30 L1294.95,392.19 L1295.43,391.06 L1295.91,389.98 L1296.41,388.90 L1296.93,387.82 L1297.47,386.75 L1298.05,385.66 L1298.63,384.64 L1299.25,383.61 L1299.91,382.60 L1300.59,381.63 L1301.33,380.68 L1302.11,379.78 L1302.95,378.93 L1303.87,378.14 L1304.85,377.46 L1305.91,376.91 L1307.05,376.52 L1308.23,376.34 L1309.43,376.37 L1310.61,376.60 L1311.75,377.00 L1312.81,377.54 L1313.83,378.19 L1314.77,378.91 L1315.67,379.71 L1316.53,380.56 L1317.35,381.45 L1318.11,382.36 L1318.85,383.30 L1319.57,384.28 L1320.25,385.27 L1320.91,386.27 L1321.55,387.30 L1322.15,388.30 L1322.75,389.34 L1323.33,390.39 L1323.91,391.48 L1324.45,392.52 L1324.99,393.60 L1325.51,394.67 L1326.03,395.76 L1326.53,396.85 L1327.03,397.96 L1327.51,399.05 L1327.99,400.17 L1328.45,401.26 L1328.91,402.38 L1329.35,403.47 L1329.79,404.58 L1330.23,405.71 L1330.67,406.86 L1331.09,407.98 L1331.51,409.12 L1331.91,410.21 L1332.31,411.33 L1332.71,412.46 L1333.11,413.61 L1333.51,414.78 L1333.89,415.90 L1334.27,417.04 L1334.65,418.19 L1335.01,419.30 L1335.39,420.48 L1335.75,421.61 L1336.11,422.76 L1336.45,423.86 L1336.81,425.03 L1337.17,426.22 L1337.51,427.35 L1337.85,428.50 L1338.19,429.65 L1338.51,430.76 L1338.85,431.94 L1339.17,433.07 L1339.51,434.28 L1339.83,435.43 L1340.15,436.59 L1340.45,437.69 L1340.77,438.88 L1341.09,440.08 L1341.39,441.21 L1341.69,442.35 L1341.99,443.51 L1342.29,444.68 L1342.59,445.85 L1342.89,447.04 L1343.17,448.16 L1343.47,449.37 L1343.75,450.51 L1344.03,451.66 L1344.31,452.81 L1344.59,453.98 L1344.87,455.16 L1345.15,456.34 L1345.43,457.53 L1345.69,458.65 L1345.97,459.86 L1346.23,461.00 L1346.51,462.22 L1346.77,463.37 L1346.89,463.90" stroke="#000" stroke-width="4.5" fill="none" stroke-linecap="round" stroke-linejoin="round"/>
<line x1="254.4" y1="173.66" x2="1401.4" y2="173.66" stroke="#ff0000" stroke-width="4.6" stroke-dasharray="24.3 22.5"/>
<path d="M265.10,69.80 L265.91,70.25 L266.71,70.69 L267.51,71.12 L268.31,71.56 L269.12,72.00 L269.93,72.43 L270.73,72.86 L271.54,73.29 L272.35,73.72 L273.16,74.15 L273.97,74.58 L274.79,75.00 L275.60,75.42 L276.42,75.84 L277.23,76.26 L278.05,76.67 L278.87,77.09 L279.69,77.50 L280.51,77.90 L281.33,78.31 L282.16,78.71 L282.98,79.12 L283.81,79.51 L284.64,79.91 L285.47,80.30 L286.30,80.69 L287.13,81.08 L287.96,81.47 L288.80,81.85 L289.63,82.23 L290.47,82.60 L291.31,82.98 L292.15,83.34 L292.99,83.71 L293.83,84.07 L294.67,84.43 L295.52,84.79 L296.37,85.14 L297.21,85.49 L298.06,85.84 L298.91,86.18 L299.77,86.52 L300.62,86.86 L301.47,87.19 L302.33,87.52 L303.19,87.84 L304.05,88.16 L304.91,88.47 L305.77,88.79 L306.64,89.09 L307.50,89.40 L308.37,89.70 L309.24,89.99 L310.11,90.28 L310.98,90.57 L311.85,90.85 L312.72,91.13 L313.60,91.40 L314.48,91.67 L315.35,91.93 L316.23,92.19 L317.12,92.45 L318.00,92.70 L318.88,92.94 L319.76,93.19 L320.65,93.42 L321.54,93.65 L322.43,93.88 L323.31,94.10 L324.21,94.32 L325.10,94.53 L325.99,94.74 L326.88,94.95 L327.78,95.14 L328.67,95.34 L329.57,95.53 L330.47,95.71 L331.37,95.89 L332.27,96.06 L333.17,96.23 L334.07,96.39 L334.97,96.55 L335.87,96.70 L336.78,96.85 L337.68,96.99 L338.59,97.13 L339.50,97.26 L340.40,97.38 L341.31,97.50 L342.22,97.62 L343.13,97.73 L344.04,97.83 L344.95,97.93 L345.86,98.02 L346.77,98.11 L347.69,98.19 L348.60,98.27 L349.51,98.35 L350.43,98.42 L351.34,98.48 L352.26,98.55 L353.17,98.61 L354.09,98.66 L355.01,98.72 L355.92,98.77 L356.84,98.82 L357.76,98.87 L358.67,98.91 L359.59,98.96 L360.51,99.00 L361.43,99.04 L362.34,99.09 L363.26,99.13 L364.18,99.17 L365.10,99.21 L366.01,99.25 L366.93,99.30 L367.85,99.34 L368.77,99.39 L369.68,99.43 L370.60,99.48 L371.52,99.53 L372.43,99.58 L373.35,99.64 L374.26,99.69 L375.18,99.75 L376.09,99.81 L377.01,99.88 L377.92,99.95 L378.84,100.01 L379.75,100.08 L380.67,100.16 L381.58,100.23 L382.49,100.31 L383.40,100.39 L384.32,100.48 L385.23,100.56 L386.14,100.65 L387.05,100.74 L387.96,100.83 L388.88,100.93 L389.79,101.02 L390.70,101.12 L391.61,101.22 L392.52,101.33 L393.43,101.43 L394.34,101.54 L395.25,101.66 L396.15,101.77 L397.06,101.89 L397.97,102.00 L398.88,102.12 L399.79,102.25 L400.69,102.37 L401.60,102.50 L402.51,102.63 L403.42,102.77 L404.32,102.90 L405.23,103.04 L406.13,103.18 L407.04,103.32 L407.95,103.47 L408.85,103.62 L409.76,103.77 L410.66,103.92 L411.57,104.07 L412.47,104.23 L413.37,104.39 L414.28,104.55 L415.18,104.71 L416.09,104.87 L416.99,105.03 L417.89,105.20 L418.80,105.37 L419.70,105.53 L420.60,105.70 L421.50,105.87 L422.41,106.03 L423.31,106.20 L424.21,106.37 L425.12,106.54 L426.02,106.71 L426.92,106.87 L427.83,107.04 L428.73,107.20 L429.63,107.37 L430.54,107.53 L431.44,107.69 L432.34,107.85 L433.25,108.01 L434.15,108.17 L435.06,108.33 L435.96,108.48 L436.87,108.63 L437.77,108.78 L438.68,108.93 L439.58,109.07 L440.49,109.21 L441.39,109.35 L442.30,109.48 L443.21,109.61 L444.11,109.74 L445.02,109.87 L445.93,109.99 L446.84,110.10 L447.74,110.22 L448.65,110.33 L449.56,110.43 L450.47,110.53 L451.38,110.63 L452.29,110.72 L453.20,110.80 L454.12,110.89 L455.03,110.96 L455.94,111.04 L456.85,111.11 L457.77,111.18 L458.68,111.24 L459.59,111.30 L460.51,111.36 L461.42,111.41 L462.34,111.46 L463.25,111.51 L464.17,111.56 L465.08,111.60 L466.00,111.64 L466.92,111.68 L467.83,111.71 L468.75,111.74 L469.66,111.77 L470.58,111.80 L471.50,111.83 L472.42,111.86 L473.33,111.88 L474.25,111.90 L475.17,111.92 L476.09,111.94 L477.00,111.96 L477.92,111.98 L478.84,112.00 L479.76,112.02 L480.67,112.03 L481.59,112.05 L482.51,112.06 L483.43,112.08 L484.35,112.09 L485.26,112.11 L486.18,112.12 L487.10,112.14 L488.02,112.15 L488.94,112.17 L489.85,112.19 L490.77,112.21 L491.69,112.22 L492.61,112.24 L493.52,112.26 L494.44,112.28 L495.36,112.30 L496.28,112.32 L497.19,112.34 L498.11,112.36 L499.03,112.39 L499.94,112.41 L500.86,112.43 L501.78,112.46 L502.69,112.48 L503.61,112.51 L504.53,112.54 L505.44,112.57 L506.36,112.59 L507.28,112.62 L508.19,112.66 L509.11,112.69 L510.02,112.72 L510.94,112.75 L511.86,112.79 L512.77,112.82 L513.69,112.86 L514.60,112.90 L515.52,112.94 L516.43,112.98 L517.35,113.02 L518.26,113.06 L519.18,113.11 L520.10,113.15 L521.01,113.20 L521.93,113.25 L522.84,113.30 L523.75,113.35 L524.67,113.40 L525.58,113.45 L526.50,113.51 L527.41,113.56 L528.33,113.62 L529.24,113.68 L530.16,113.74 L531.07,113.80 L531.98,113.86 L532.90,113.93 L533.81,114.00 L534.72,114.06 L535.64,114.13 L536.55,114.21 L537.46,114.28 L538.38,114.35 L539.29,114.43 L540.20,114.51 L541.12,114.59 L542.03,114.67 L542.94,114.76 L543.85,114.84 L544.77,114.93 L545.68,115.02 L546.59,115.11 L547.50,115.20 L548.42,115.30 L549.33,115.39 L550.24,115.49 L551.15,115.58 L552.06,115.68 L552.98,115.78 L553.89,115.88 L554.80,115.98 L555.71,116.08 L556.62,116.18 L557.54,116.29 L558.45,116.39 L559.36,116.49 L560.27,116.59 L561.18,116.70 L562.09,116.80 L563.01,116.90 L563.92,117.00 L564.83,117.10 L565.74,117.20 L566.65,117.31 L567.56,117.41 L568.48,117.51 L569.39,117.60 L570.30,117.70 L571.21,117.80 L572.13,117.89 L573.04,117.99 L573.95,118.08 L574.86,118.17 L575.78,118.26 L576.69,118.35 L577.60,118.44 L578.51,118.53 L579.43,118.61 L580.34,118.69 L581.25,118.77 L582.17,118.85 L583.08,118.93 L583.99,119.00 L584.91,119.08 L585.82,119.15 L586.73,119.22 L587.65,119.29 L588.56,119.35 L589.48,119.42 L590.39,119.48 L591.31,119.54 L592.22,119.60 L593.13,119.66 L594.05,119.72 L594.96,119.77 L595.88,119.83 L596.79,119.88 L597.71,119.93 L598.62,119.99 L599.54,120.03 L600.45,120.08 L601.37,120.13 L602.28,120.18 L603.20,120.22 L604.12,120.26 L605.03,120.31 L605.95,120.35 L606.86,120.39 L607.78,120.43 L608.69,120.47 L609.61,120.50 L610.53,120.54 L611.44,120.58 L612.36,120.61 L613.27,120.65 L614.19,120.68 L615.11,120.71 L616.02,120.74 L616.94,120.77 L617.86,120.81 L618.77,120.84 L619.69,120.86 L620.61,120.89 L621.52,120.92 L622.44,120.95 L623.36,120.98 L624.27,121.00 L625.19,121.03 L626.11,121.05 L627.02,121.08 L627.94,121.11 L628.86,121.13 L629.77,121.15 L630.69,121.18 L631.61,121.20 L632.52,121.23 L633.44,121.25 L634.36,121.27 L635.27,121.30 L636.19,121.32 L637.11,121.34 L638.02,121.37 L638.94,121.39 L639.86,121.41 L640.77,121.44 L641.69,121.46 L642.61,121.48 L643.52,121.51 L644.44,121.53 L645.36,121.56 L646.27,121.58 L647.19,121.61 L648.11,121.63 L649.02,121.66 L649.94,121.68 L650.86,121.71 L651.77,121.73 L652.69,121.76 L653.61,121.79 L654.52,121.82 L655.44,121.84 L656.36,121.87 L657.27,121.90 L658.19,121.93 L659.11,121.96 L660.02,121.99 L660.94,122.02 L661.85,122.05 L662.77,122.08 L663.69,122.11 L664.60,122.14 L665.52,122.17 L666.44,122.20 L667.35,122.24 L668.27,122.27 L669.18,122.30 L670.10,122.33 L671.02,122.37 L671.93,122.40 L672.85,122.43 L673.77,122.47 L674.68,122.50 L675.60,122.53 L676.51,122.57 L677.43,122.60 L678.35,122.64 L679.26,122.67 L680.18,122.71 L681.09,122.74 L682.01,122.78 L682.93,122.81 L683.84,122.85 L684.76,122.88 L685.67,122.92 L686.59,122.95 L687.51,122.99 L688.42,123.03 L689.34,123.06 L690.25,123.10 L691.17,123.14 L692.09,123.17 L693.00,123.21 L693.92,123.25 L694.83,123.28 L695.75,123.32 L696.66,123.36 L697.58,123.39 L698.50,123.43 L699.41,123.47 L700.33,123.50 L701.24,123.54 L702.16,123.58 L703.08,123.61 L703.99,123.65 L704.91,123.69 L705.82,123.72 L706.74,123.76 L707.66,123.80 L708.57,123.83 L709.49,123.87 L710.40,123.91 L711.32,123.94 L712.24,123.98 L713.15,124.02 L714.07,124.05 L714.98,124.09 L715.90,124.13 L716.82,124.16 L717.73,124.20 L718.65,124.23 L719.56,124.27 L720.48,124.30 L721.40,124.34 L722.31,124.37 L723.23,124.41 L724.14,124.44 L725.06,124.48 L725.98,124.51 L726.89,124.55 L727.81,124.58 L728.73,124.62 L729.64,124.65 L730.56,124.68 L731.47,124.72 L732.39,124.75 L733.31,124.79 L734.22,124.82 L735.14,124.86 L736.05,124.90 L736.97,124.93 L737.89,124.97 L738.80,125.00 L739.72,125.04 L740.63,125.08 L741.55,125.12 L742.47,125.16 L743.38,125.20 L744.30,125.24 L745.21,125.28 L746.13,125.32 L747.04,125.36 L747.96,125.40 L748.88,125.45 L749.79,125.49 L750.71,125.54 L751.62,125.58 L752.54,125.63 L753.45,125.68 L754.37,125.73 L755.28,125.78 L756.20,125.83 L757.11,125.88 L758.03,125.93 L758.94,125.99 L759.85,126.05 L760.77,126.10 L761.68,126.16 L762.60,126.22 L763.51,126.28 L764.43,126.35 L765.34,126.41 L766.25,126.48 L767.17,126.54 L768.08,126.61 L768.99,126.68 L769.91,126.76 L770.82,126.83 L771.73,126.91 L772.64,126.99 L773.56,127.06 L774.47,127.15 L775.38,127.23 L776.29,127.31 L777.21,127.40 L778.12,127.49 L779.03,127.58 L779.94,127.68 L780.85,127.77 L781.76,127.87 L782.68,127.97 L783.59,128.07 L784.50,128.17 L785.41,128.28 L786.32,128.39 L787.23,128.50 L788.14,128.62 L789.05,128.73 L789.96,128.85 L790.87,128.97 L791.78,129.09 L792.68,129.22 L793.59,129.35 L794.50,129.48 L795.41,129.62 L796.32,129.75 L797.23,129.89 L798.13,130.04 L799.04,130.18 L799.95,130.33 L800.86,130.48 L801.76,130.62 L802.67,130.77 L803.58,130.92 L804.48,131.07 L805.39,131.21 L806.30,131.36 L807.20,131.50 L808.11,131.63 L809.02,131.76 L809.93,131.89 L810.84,132.01 L811.74,132.12 L812.65,132.23 L813.56,132.33 L814.47,132.42 L815.38,132.50 L816.29,132.58 L817.20,132.64 L818.11,132.69 L819.03,132.74 L819.94,132.76 L820.85,132.78 L821.77,132.79 L822.68,132.78 L823.60,132.75 L824.51,132.72 L825.43,132.67 L826.35,132.61 L827.26,132.55 L828.18,132.48 L829.10,132.40 L830.02,132.32 L830.94,132.23 L831.85,132.14 L832.77,132.05 L833.69,131.97 L834.61,131.88 L835.53,131.79 L836.44,131.71 L837.36,131.63 L838.28,131.56 L839.20,131.48 L840.11,131.41 L841.03,131.34 L841.94,131.27 L842.86,131.20 L843.78,131.14 L844.69,131.08 L845.61,131.02 L846.52,130.96 L847.44,130.90 L848.35,130.85 L849.27,130.80 L850.18,130.74 L851.10,130.69 L852.01,130.65 L852.93,130.60 L853.84,130.55 L854.76,130.51 L855.67,130.46 L856.58,130.42 L857.50,130.38 L858.41,130.34 L859.33,130.30 L860.24,130.26 L861.16,130.23 L862.07,130.19 L862.99,130.15 L863.90,130.12 L864.82,130.08 L865.73,130.05 L866.65,130.02 L867.56,129.98 L868.48,129.95 L869.40,129.92 L870.31,129.89 L871.23,129.86 L872.14,129.82 L873.06,129.80 L873.98,129.77 L874.89,129.74 L875.81,129.72 L876.73,129.69 L877.64,129.67 L878.56,129.66 L879.48,129.64 L880.39,129.63 L881.31,129.62 L882.23,129.61 L883.14,129.61 L884.06,129.61 L884.97,129.61 L885.89,129.62 L886.81,129.63 L887.72,129.65 L888.64,129.67 L889.55,129.70 L890.47,129.73 L891.38,129.77 L892.29,129.82 L893.21,129.86 L894.12,129.92 L895.03,129.98 L895.94,130.05 L896.86,130.12 L897.77,130.21 L898.68,130.29 L899.59,130.39 L900.50,130.49 L901.41,130.60 L902.32,130.72 L903.23,130.85 L904.13,130.99 L905.04,131.13 L905.95,131.28 L906.85,131.44 L907.76,131.61 L908.66,131.79 L909.57,131.97 L910.47,132.16 L911.38,132.36 L912.28,132.57 L913.18,132.77 L914.08,132.99 L914.98,133.21 L915.89,133.43 L916.79,133.65 L917.69,133.88 L918.59,134.12 L919.49,134.35 L920.39,134.59 L921.28,134.82 L922.18,135.06 L923.08,135.30 L923.98,135.54 L924.88,135.78 L925.78,136.02 L926.68,136.25 L927.57,136.49 L928.47,136.72 L929.37,136.95 L930.27,137.18 L931.17,137.40 L932.07,137.62 L932.96,137.83 L933.86,138.04 L934.76,138.25 L935.66,138.45 L936.56,138.64 L937.46,138.83 L938.36,139.00 L939.25,139.18 L940.15,139.34 L941.05,139.49 L941.95,139.64 L942.85,139.78 L943.75,139.91 L944.66,140.02 L945.56,140.13 L946.46,140.23 L947.36,140.32 L948.26,140.41 L949.17,140.48 L950.07,140.55 L950.97,140.60 L951.87,140.65 L952.78,140.70 L953.68,140.73 L954.59,140.76 L955.49,140.78 L956.40,140.79 L957.30,140.80 L958.21,140.80 L959.11,140.79 L960.02,140.78 L960.93,140.76 L961.83,140.73 L962.74,140.70 L963.65,140.66 L964.55,140.62 L965.46,140.57 L966.37,140.52 L967.28,140.46 L968.19,140.40 L969.09,140.33 L970.00,140.26 L970.91,140.19 L971.82,140.11 L972.73,140.02 L973.64,139.94 L974.55,139.85 L975.46,139.75 L976.37,139.66 L977.28,139.56 L978.19,139.45 L979.11,139.35 L980.02,139.24 L980.93,139.13 L981.84,139.02 L982.75,138.90 L983.67,138.79 L984.58,138.67 L985.49,138.55 L986.41,138.43 L987.32,138.31 L988.23,138.19 L989.15,138.07 L990.06,137.94 L990.97,137.82 L991.89,137.70 L992.80,137.57 L993.72,137.45 L994.63,137.33 L995.55,137.20 L996.46,137.08 L997.38,136.96 L998.29,136.84 L999.21,136.72 L1000.13,136.61 L1001.04,136.49 L1001.96,136.38 L1002.87,136.26 L1003.79,136.15 L1004.71,136.05 L1005.62,135.94 L1006.54,135.84 L1007.46,135.74 L1008.38,135.64 L1009.29,135.55 L1010.21,135.46 L1011.13,135.37 L1012.05,135.29 L1012.97,135.21 L1013.88,135.14 L1014.80,135.07 L1015.72,135.00 L1016.64,134.94 L1017.55,134.89 L1018.47,134.84 L1019.39,134.79 L1020.30,134.76 L1021.22,134.72 L1022.14,134.70 L1023.05,134.68 L1023.97,134.66 L1024.88,134.66 L1025.79,134.66 L1026.71,134.67 L1027.62,134.68 L1028.53,134.71 L1029.44,134.74 L1030.35,134.78 L1031.25,134.82 L1032.16,134.88 L1033.07,134.95 L1033.97,135.02 L1034.88,135.11 L1035.78,135.20 L1036.68,135.30 L1037.58,135.42 L1038.48,135.54 L1039.38,135.67 L1040.27,135.82 L1041.17,135.98 L1042.06,136.14 L1042.95,136.32 L1043.84,136.51 L1044.73,136.70 L1045.61,136.91 L1046.50,137.12 L1047.38,137.34 L1048.27,137.57 L1049.15,137.81 L1050.03,138.06 L1050.91,138.31 L1051.79,138.57 L1052.67,138.83 L1053.55,139.10 L1054.43,139.38 L1055.31,139.66 L1056.18,139.95 L1057.06,140.23 L1057.93,140.53 L1058.81,140.82 L1059.68,141.12 L1060.56,141.42 L1061.43,141.73 L1062.31,142.03 L1063.18,142.34 L1064.06,142.64 L1064.93,142.95 L1065.81,143.26 L1066.68,143.57 L1067.55,143.87 L1068.43,144.18 L1069.31,144.48 L1070.18,144.79 L1071.06,145.09 L1071.94,145.38 L1072.81,145.68 L1073.69,145.97 L1074.57,146.26 L1075.45,146.54 L1076.33,146.82 L1077.21,147.09 L1078.10,147.36 L1078.98,147.62 L1079.86,147.88 L1080.75,148.13 L1081.64,148.37 L1082.52,148.61 L1083.41,148.83 L1084.30,149.06 L1085.19,149.27 L1086.08,149.48 L1086.97,149.68 L1087.87,149.87 L1088.76,150.05 L1089.66,150.22 L1090.55,150.39 L1091.45,150.54 L1092.35,150.68 L1093.25,150.82 L1094.15,150.94 L1095.05,151.05 L1095.96,151.16 L1096.86,151.25 L1097.77,151.33 L1098.67,151.39 L1099.58,151.45 L1100.49,151.49 L1101.40,151.52 L1102.31,151.54 L1103.22,151.55 L1104.13,151.54 L1105.05,151.52 L1105.96,151.48 L1106.88,151.44 L1107.79,151.38 L1108.71,151.31 L1109.63,151.22 L1110.54,151.13 L1111.46,151.03 L1112.38,150.91 L1113.29,150.79 L1114.21,150.66 L1115.12,150.52 L1116.03,150.37 L1116.94,150.21 L1117.85,150.05 L1118.76,149.87 L1119.67,149.70 L1120.57,149.51 L1121.47,149.32 L1122.37,149.13 L1123.27,148.93 L1124.17,148.73 L1125.06,148.52 L1125.96,148.31 L1126.85,148.09 L1127.74,147.87 L1128.63,147.65 L1129.51,147.43 L1130.40,147.20 L1131.29,146.98 L1132.17,146.75 L1133.06,146.52 L1133.94,146.29 L1134.83,146.06 L1135.71,145.83 L1136.60,145.60 L1137.48,145.37 L1138.37,145.14 L1139.25,144.92 L1140.13,144.69 L1141.02,144.47 L1141.91,144.25 L1142.79,144.03 L1143.68,143.82 L1144.57,143.61 L1145.46,143.40 L1146.35,143.20 L1147.24,143.01 L1148.14,142.81 L1149.03,142.63 L1149.93,142.45 L1150.83,142.27 L1151.73,142.11 L1152.63,141.95 L1153.54,141.79 L1154.44,141.65 L1155.35,141.51 L1156.27,141.38 L1157.18,141.26 L1158.10,141.15 L1159.02,141.04 L1159.94,140.95 L1160.87,140.87 L1161.79,140.79 L1162.72,140.73 L1163.65,140.67 L1164.57,140.62 L1165.50,140.59 L1166.43,140.56 L1167.36,140.55 L1168.29,140.55 L1169.22,140.55 L1170.14,140.57 L1171.07,140.60 L1172.00,140.64 L1172.92,140.69 L1173.84,140.76 L1174.76,140.83 L1175.67,140.92 L1176.59,141.02 L1177.50,141.13 L1178.40,141.25 L1179.31,141.38 L1180.21,141.53 L1181.10,141.69 L1181.99,141.87 L1182.88,142.05 L1183.76,142.25 L1184.64,142.46 L1185.52,142.69 L1186.39,142.92 L1187.25,143.17 L1188.12,143.42 L1188.98,143.69 L1189.83,143.96 L1190.69,144.25 L1191.54,144.54 L1192.39,144.84 L1193.24,145.16 L1194.08,145.47 L1194.92,145.80 L1195.76,146.14 L1196.60,146.48 L1197.44,146.82 L1198.28,147.18 L1199.11,147.54 L1199.95,147.90 L1200.78,148.27 L1201.61,148.64 L1202.45,149.02 L1203.28,149.40 L1204.11,149.79 L1204.94,150.18 L1205.78,150.57 L1206.61,150.96 L1207.44,151.36 L1208.28,151.76 L1209.11,152.16 L1209.95,152.56 L1210.79,152.96 L1211.63,153.36 L1212.47,153.76 L1213.31,154.16 L1214.16,154.56 L1215.01,154.95 L1215.86,155.35 L1216.71,155.74 L1217.56,156.13 L1218.42,156.52 L1219.28,156.90 L1220.15,157.29 L1221.01,157.66 L1221.88,158.03 L1222.76,158.40 L1223.63,158.76 L1224.51,159.11 L1225.39,159.45 L1226.27,159.78 L1227.15,160.10 L1228.03,160.42 L1228.92,160.72 L1229.80,161.01 L1230.69,161.29 L1231.58,161.55 L1232.47,161.80 L1233.36,162.04 L1234.25,162.26 L1235.14,162.47 L1236.03,162.66 L1236.92,162.83 L1237.81,162.98 L1238.70,163.11 L1239.59,163.23 L1240.47,163.32 L1241.36,163.39 L1242.25,163.45 L1243.13,163.48 L1244.02,163.48 L1244.90,163.46 L1245.78,163.42 L1246.66,163.35 L1247.54,163.26 L1248.42,163.15 L1249.29,163.02 L1250.17,162.86 L1251.04,162.68 L1251.91,162.49 L1252.78,162.28 L1253.65,162.05 L1254.52,161.80 L1255.39,161.54 L1256.26,161.27 L1257.12,160.98 L1257.99,160.69 L1258.85,160.38 L1259.72,160.06 L1260.58,159.73 L1261.45,159.40 L1262.31,159.05 L1263.18,158.71 L1264.04,158.35 L1264.91,158.00 L1265.77,157.64 L1266.64,157.27 L1267.50,156.91 L1268.37,156.55 L1269.23,156.19 L1270.10,155.83 L1270.97,155.47 L1271.84,155.12 L1272.71,154.77 L1273.58,154.43 L1274.45,154.10 L1275.32,153.77 L1276.19,153.45 L1277.07,153.14 L1277.94,152.83 L1278.82,152.53 L1279.70,152.24 L1280.58,151.96 L1281.46,151.68 L1282.34,151.41 L1283.22,151.14 L1284.10,150.88 L1284.98,150.63 L1285.87,150.39 L1286.75,150.15 L1287.64,149.91 L1288.53,149.69 L1289.41,149.47 L1290.30,149.25 L1291.19,149.04 L1292.08,148.84 L1292.97,148.64 L1293.87,148.45 L1294.76,148.27 L1295.65,148.09 L1296.55,147.91 L1297.44,147.74 L1298.34,147.58 L1299.24,147.42 L1300.14,147.27 L1301.03,147.12 L1301.93,146.98 L1302.83,146.84 L1303.74,146.71 L1304.64,146.58 L1305.54,146.45 L1306.44,146.34 L1307.35,146.22 L1308.25,146.11 L1309.16,146.01 L1310.06,145.91 L1310.97,145.81 L1311.88,145.72 L1312.79,145.63 L1313.69,145.55 L1314.60,145.47 L1315.51,145.40 L1316.42,145.33 L1317.34,145.26 L1318.25,145.19 L1319.16,145.13 L1320.07,145.08 L1320.99,145.03 L1321.90,144.98 L1322.82,144.93 L1323.73,144.89 L1324.65,144.85 L1325.56,144.82 L1326.48,144.78 L1327.40,144.75 L1328.31,144.73 L1329.23,144.70 L1330.15,144.68 L1331.07,144.67 L1331.99,144.65 L1332.91,144.64 L1333.83,144.63 L1334.75,144.62 L1335.67,144.62 L1336.59,144.61 L1337.52,144.61 L1338.44,144.62 L1339.36,144.62 L1340.28,144.63 L1341.21,144.64 L1342.13,144.65 L1343.06,144.66 L1343.98,144.67 L1344.91,144.69 L1345.83,144.70" stroke="#ff0000" stroke-width="4.6" fill="none" stroke-linecap="round" stroke-linejoin="round"/>
<g stroke="#ff0000" stroke-width="4.2" fill="none">
<line x1="251.9" y1="58.3" x2="1403.5" y2="58.3" stroke-width="4.4"/>
<line x1="1401.4" y1="58.3" x2="1401.4" y2="983.45"/>
<line x1="254.00" y1="58.3" x2="254.00" y2="76.3"/>
<line x1="362.89" y1="58.3" x2="362.89" y2="66.89999999999999"/>
<line x1="472.18" y1="58.3" x2="472.18" y2="76.3"/>
<line x1="581.47" y1="58.3" x2="581.47" y2="66.89999999999999"/>
<line x1="690.76" y1="58.3" x2="690.76" y2="76.3"/>
<line x1="800.05" y1="58.3" x2="800.05" y2="66.89999999999999"/>
<line x1="909.34" y1="58.3" x2="909.34" y2="76.3"/>
<line x1="1018.63" y1="58.3" x2="1018.63" y2="66.89999999999999"/>
<line x1="1127.92" y1="58.3" x2="1127.92" y2="76.3"/>
<line x1="1237.21" y1="58.3" x2="1237.21" y2="66.89999999999999"/>
<line x1="1346.50" y1="58.3" x2="1346.50" y2="76.3"/>
<line x1="1401.4" y1="58.30" x2="1382.9" y2="58.30"/>
<line x1="1401.4" y1="212.12" x2="1382.9" y2="212.12"/>
<line x1="1401.4" y1="365.93" x2="1382.9" y2="365.93"/>
<line x1="1401.4" y1="519.75" x2="1382.9" y2="519.75"/>
<line x1="1401.4" y1="673.57" x2="1382.9" y2="673.57"/>
<line x1="1401.4" y1="827.38" x2="1382.9" y2="827.38"/>
<line x1="1401.4" y1="981.20" x2="1382.9" y2="981.20"/>
</g>
<g font-family="&apos;Liberation Serif&apos;, &apos;Times New Roman&apos;, serif" font-size="57" fill="#000"><text x="233" y="75.2" text-anchor="end">-6</text><text x="233" y="177.7" text-anchor="end">-8</text><text x="233" y="280.3" text-anchor="end">-10</text><text x="233" y="382.8" text-anchor="end">-12</text><text x="233" y="485.4" text-anchor="end">-14</text><text x="233" y="587.9" text-anchor="end">-16</text><text x="233" y="690.5" text-anchor="end">-18</text><text x="233" y="793.0" text-anchor="end">-20</text><text x="233" y="895.6" text-anchor="end">-22</text><text x="233" y="998.1" text-anchor="end">-24</text><text x="1420" y="75.2" fill="#ff0000">0</text><text x="1420" y="229.0" fill="#ff0000">-4</text><text x="1420" y="382.8" fill="#ff0000">-8</text><text x="1420" y="536.6" fill="#ff0000">-12</text><text x="1420" y="690.5" fill="#ff0000">-16</text><text x="1420" y="844.3" fill="#ff0000">-20</text><text x="1420" y="998.1" fill="#ff0000">-24</text><text x="254.00" y="1045" text-anchor="middle">0</text><text x="472.18" y="1045" text-anchor="middle">20</text><text x="690.76" y="1045" text-anchor="middle">40</text><text x="909.34" y="1045" text-anchor="middle">60</text><text x="1127.92" y="1045" text-anchor="middle">80</text><text x="1346.50" y="1045" text-anchor="middle">100</text></g>
<text x="332.6" y="296" font-family="&apos;Liberation Serif&apos;, &apos;Times New Roman&apos;, serif" font-size="49" fill="#000" >-11dB</text>
<text x="1118.6" y="221.5" font-family="&apos;Liberation Serif&apos;, &apos;Times New Roman&apos;, serif" font-size="48" fill="#ff0000">-3dB</text>
<text x="550.4" y="1156.3" font-family="&apos;Liberation Serif&apos;, &apos;Times New Roman&apos;, serif" font-size="78.7" fill="#000">Frequency (GHz)</text>
<text transform="translate(99.4,908) rotate(-90)" font-family="&apos;Liberation Serif&apos;, &apos;Times New Roman&apos;, serif" font-size="78.6" fill="#000">Reflection Coefficient (dB)</text>
<text transform="translate(1576.6,975) rotate(-90)" font-family="&apos;Liberation Serif&apos;, &apos;Times New Roman&apos;, serif" font-size="78.4" fill="#ff0000">Electro-Optic Response (dB)</text></svg>
</body></html>
